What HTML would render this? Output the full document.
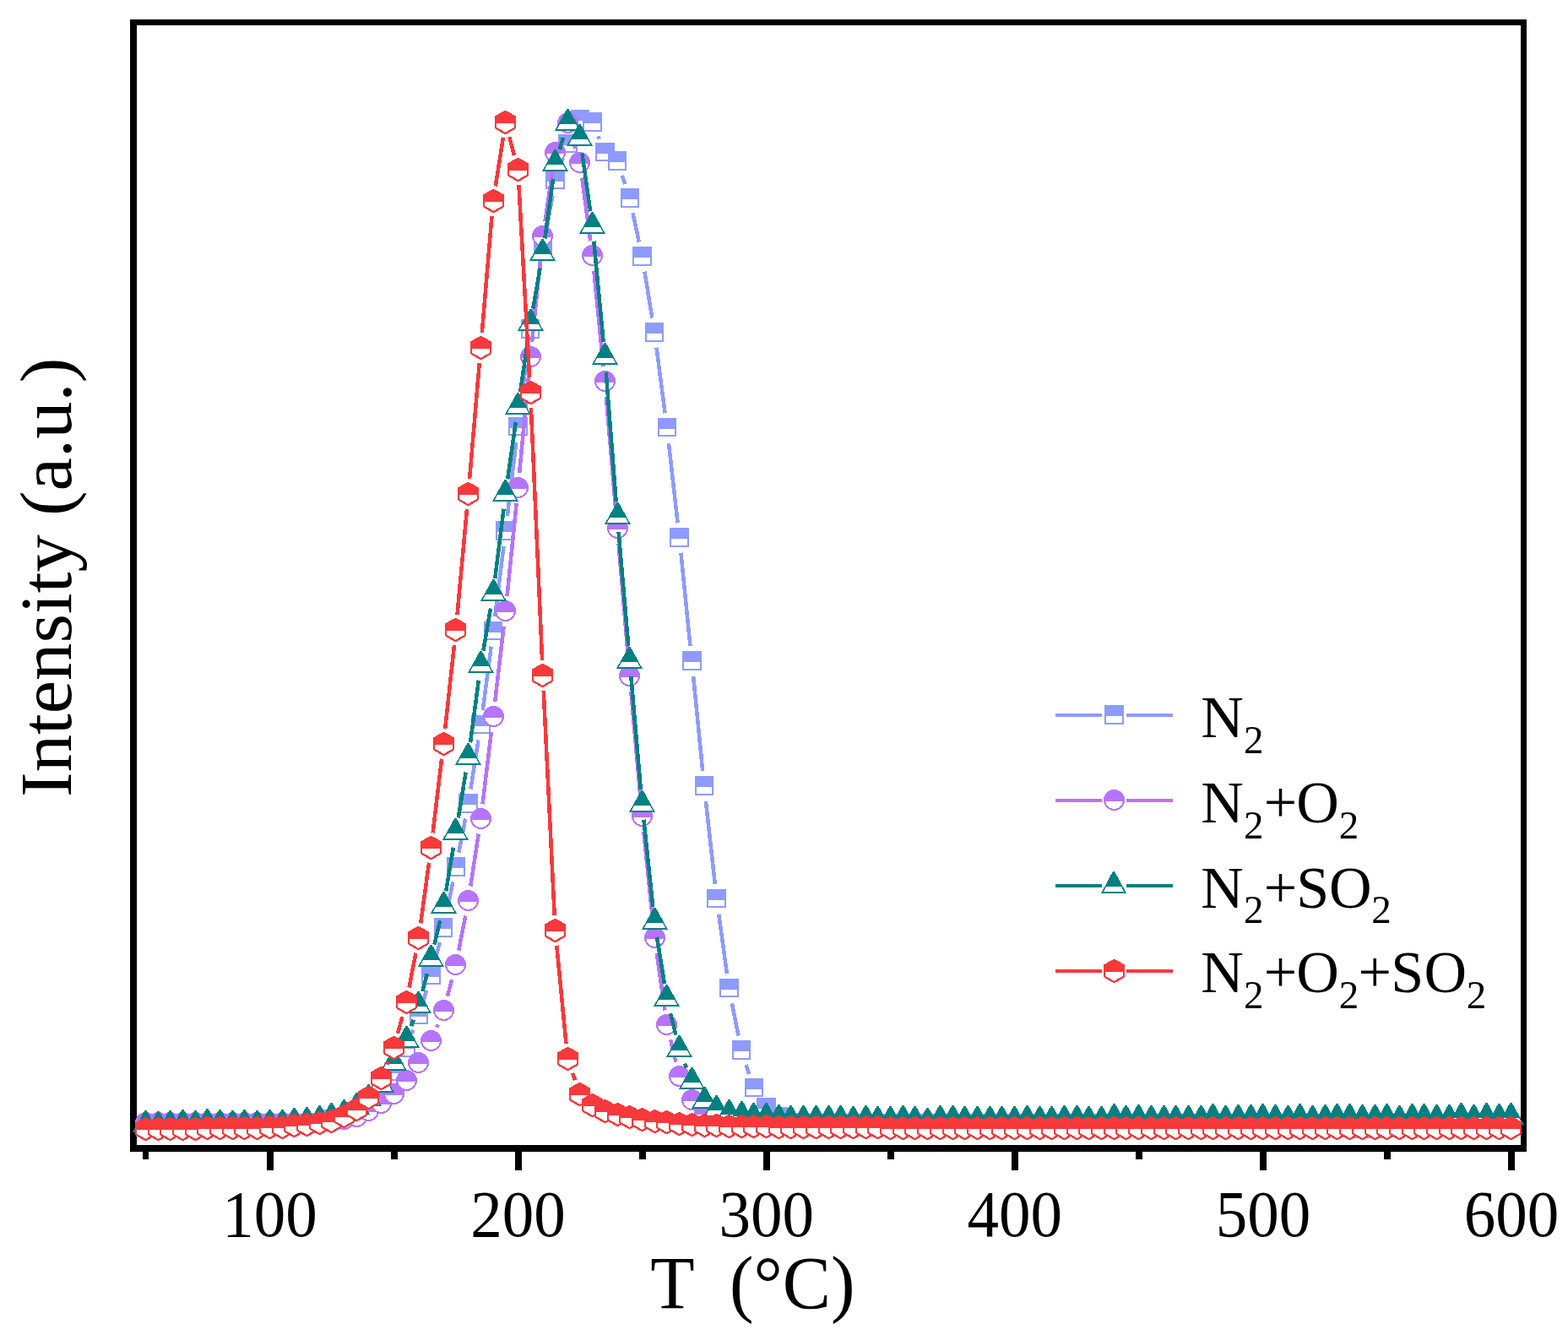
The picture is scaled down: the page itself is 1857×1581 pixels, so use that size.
<!DOCTYPE html>
<html lang="en">
<head>
<meta charset="utf-8">
<title>Intensity vs T</title>
<style>html,body{margin:0;padding:0;background:#fff}body{width:1857px;height:1581px;overflow:hidden}</style>
</head>
<body>
<svg width="1857" height="1581" viewBox="0 0 1857 1581" style="display:block">
<rect width="1857" height="1581" fill="#fff"/>
<g fill="#000" shape-rendering="crispEdges">
<rect x="154" y="23" width="1654" height="7"/>
<rect x="154" y="1356" width="1654" height="8"/>
<rect x="154" y="23" width="8" height="1341"/>
<rect x="1801" y="23" width="7" height="1341"/>
<rect x="169" y="1364" width="7" height="9"/>
<rect x="316" y="1364" width="8" height="22"/>
<rect x="463" y="1364" width="8" height="9"/>
<rect x="610" y="1364" width="8" height="22"/>
<rect x="757" y="1364" width="8" height="9"/>
<rect x="904" y="1364" width="8" height="22"/>
<rect x="1051" y="1364" width="8" height="9"/>
<rect x="1198" y="1364" width="8" height="22"/>
<rect x="1345" y="1364" width="8" height="9"/>
<rect x="1492" y="1364" width="8" height="22"/>
<rect x="1639" y="1364" width="8" height="9"/>
<rect x="1786" y="1364" width="8" height="22"/>
</g>
<g shape-rendering="crispEdges">
<g>
<path d="M487.5 1224.4L489.4 1219.6M501.1 1186L505.2 1173M514.9 1138.8L520.8 1116.2M528.8 1081.6L536.4 1044.4M543.3 1009.5L551.2 969.5M557.4 934.4L566.5 876.6M571.7 841.4L581.7 765.6M586.2 730.3L596.5 646.7M600.8 611.3L611.3 523.7M615.7 488.3L625.9 407.7M630.9 372.4L640.1 313.6M646 278.5L654.4 231.5M663.3 197.2L666.5 187.8M708.4 161.5L709.6 164.5M736.7 207.9L740.1 218.1M749.5 252.4L756.8 286.6M763.4 321.6L772.3 376.4M777.5 411.7L787.6 489.3M791.9 524.7L802.6 619.3M806.4 654.7L817.5 765.3M821.1 800.7L832.2 913.3M835.9 948.7L846.8 1047.3M851.2 1082.6L861 1153.4M866.9 1188.4L874.6 1226.6M883.6 1260.9L887.3 1272.1" stroke="#8E9BFD" stroke-width="4.5" fill="none"/>
<rect x="162" y="1325" width="21" height="20" fill="#fff" stroke="#8E9BFD" stroke-width="2"/><rect x="161" y="1324" width="23" height="13" fill="#8E9BFD"/>
<rect x="177" y="1325" width="20" height="20" fill="#fff" stroke="#8E9BFD" stroke-width="2"/><rect x="176" y="1324" width="22" height="13" fill="#8E9BFD"/>
<rect x="191" y="1325" width="21" height="20" fill="#fff" stroke="#8E9BFD" stroke-width="2"/><rect x="190" y="1324" width="23" height="13" fill="#8E9BFD"/>
<rect x="206" y="1325" width="21" height="20" fill="#fff" stroke="#8E9BFD" stroke-width="2"/><rect x="205" y="1324" width="23" height="13" fill="#8E9BFD"/>
<rect x="221" y="1325" width="20" height="20" fill="#fff" stroke="#8E9BFD" stroke-width="2"/><rect x="220" y="1324" width="22" height="13" fill="#8E9BFD"/>
<rect x="236" y="1325" width="20" height="20" fill="#fff" stroke="#8E9BFD" stroke-width="2"/><rect x="235" y="1324" width="22" height="13" fill="#8E9BFD"/>
<rect x="250" y="1325" width="21" height="20" fill="#fff" stroke="#8E9BFD" stroke-width="2"/><rect x="249" y="1324" width="23" height="13" fill="#8E9BFD"/>
<rect x="265" y="1325" width="20" height="20" fill="#fff" stroke="#8E9BFD" stroke-width="2"/><rect x="264" y="1324" width="22" height="13" fill="#8E9BFD"/>
<rect x="280" y="1325" width="20" height="20" fill="#fff" stroke="#8E9BFD" stroke-width="2"/><rect x="279" y="1324" width="22" height="13" fill="#8E9BFD"/>
<rect x="294" y="1325" width="21" height="20" fill="#fff" stroke="#8E9BFD" stroke-width="2"/><rect x="293" y="1324" width="23" height="13" fill="#8E9BFD"/>
<rect x="309" y="1325" width="21" height="20" fill="#fff" stroke="#8E9BFD" stroke-width="2"/><rect x="308" y="1324" width="23" height="13" fill="#8E9BFD"/>
<rect x="324" y="1324" width="20" height="20" fill="#fff" stroke="#8E9BFD" stroke-width="2"/><rect x="323" y="1323" width="22" height="13" fill="#8E9BFD"/>
<rect x="339" y="1322" width="20" height="20" fill="#fff" stroke="#8E9BFD" stroke-width="2"/><rect x="338" y="1321" width="22" height="13" fill="#8E9BFD"/>
<rect x="353" y="1320" width="21" height="21" fill="#fff" stroke="#8E9BFD" stroke-width="2"/><rect x="352" y="1319" width="23" height="13" fill="#8E9BFD"/>
<rect x="368" y="1319" width="20" height="20" fill="#fff" stroke="#8E9BFD" stroke-width="2"/><rect x="367" y="1318" width="22" height="13" fill="#8E9BFD"/>
<rect x="383" y="1315" width="20" height="21" fill="#fff" stroke="#8E9BFD" stroke-width="2"/><rect x="382" y="1314" width="22" height="13" fill="#8E9BFD"/>
<rect x="397" y="1313" width="21" height="20" fill="#fff" stroke="#8E9BFD" stroke-width="2"/><rect x="396" y="1312" width="23" height="13" fill="#8E9BFD"/>
<rect x="412" y="1306" width="21" height="20" fill="#fff" stroke="#8E9BFD" stroke-width="2"/><rect x="411" y="1305" width="23" height="13" fill="#8E9BFD"/>
<rect x="427" y="1295" width="20" height="20" fill="#fff" stroke="#8E9BFD" stroke-width="2"/><rect x="426" y="1294" width="22" height="13" fill="#8E9BFD"/>
<rect x="441" y="1279" width="21" height="20" fill="#fff" stroke="#8E9BFD" stroke-width="2"/><rect x="440" y="1278" width="23" height="13" fill="#8E9BFD"/>
<rect x="456" y="1259" width="21" height="20" fill="#fff" stroke="#8E9BFD" stroke-width="2"/><rect x="455" y="1258" width="23" height="13" fill="#8E9BFD"/>
<rect x="471" y="1230" width="20" height="21" fill="#fff" stroke="#8E9BFD" stroke-width="2"/><rect x="470" y="1229" width="22" height="13" fill="#8E9BFD"/>
<rect x="486" y="1192" width="20" height="20" fill="#fff" stroke="#8E9BFD" stroke-width="2"/><rect x="485" y="1191" width="22" height="13" fill="#8E9BFD"/>
<rect x="500" y="1145" width="21" height="20" fill="#fff" stroke="#8E9BFD" stroke-width="2"/><rect x="499" y="1144" width="23" height="13" fill="#8E9BFD"/>
<rect x="515" y="1088" width="20" height="21" fill="#fff" stroke="#8E9BFD" stroke-width="2"/><rect x="514" y="1087" width="22" height="13" fill="#8E9BFD"/>
<rect x="530" y="1016" width="20" height="21" fill="#fff" stroke="#8E9BFD" stroke-width="2"/><rect x="529" y="1015" width="22" height="13" fill="#8E9BFD"/>
<rect x="544" y="941" width="21" height="21" fill="#fff" stroke="#8E9BFD" stroke-width="2"/><rect x="543" y="940" width="23" height="13" fill="#8E9BFD"/>
<rect x="559" y="848" width="21" height="20" fill="#fff" stroke="#8E9BFD" stroke-width="2"/><rect x="558" y="847" width="23" height="13" fill="#8E9BFD"/>
<rect x="574" y="737" width="20" height="20" fill="#fff" stroke="#8E9BFD" stroke-width="2"/><rect x="573" y="736" width="22" height="13" fill="#8E9BFD"/>
<rect x="588" y="618" width="21" height="21" fill="#fff" stroke="#8E9BFD" stroke-width="2"/><rect x="587" y="617" width="23" height="13" fill="#8E9BFD"/>
<rect x="603" y="495" width="21" height="20" fill="#fff" stroke="#8E9BFD" stroke-width="2"/><rect x="602" y="494" width="23" height="13" fill="#8E9BFD"/>
<rect x="618" y="379" width="20" height="21" fill="#fff" stroke="#8E9BFD" stroke-width="2"/><rect x="617" y="378" width="22" height="13" fill="#8E9BFD"/>
<rect x="633" y="285" width="20" height="20" fill="#fff" stroke="#8E9BFD" stroke-width="2"/><rect x="632" y="284" width="22" height="13" fill="#8E9BFD"/>
<rect x="647" y="203" width="21" height="20" fill="#fff" stroke="#8E9BFD" stroke-width="2"/><rect x="646" y="202" width="23" height="13" fill="#8E9BFD"/>
<rect x="662" y="160" width="21" height="20" fill="#fff" stroke="#8E9BFD" stroke-width="2"/><rect x="661" y="159" width="23" height="13" fill="#8E9BFD"/>
<rect x="677" y="131" width="20" height="20" fill="#fff" stroke="#8E9BFD" stroke-width="2"/><rect x="676" y="130" width="22" height="13" fill="#8E9BFD"/>
<rect x="691" y="134" width="21" height="21" fill="#fff" stroke="#8E9BFD" stroke-width="2"/><rect x="690" y="133" width="23" height="13" fill="#8E9BFD"/>
<rect x="706" y="170" width="21" height="20" fill="#fff" stroke="#8E9BFD" stroke-width="2"/><rect x="705" y="169" width="23" height="13" fill="#8E9BFD"/>
<rect x="721" y="180" width="20" height="21" fill="#fff" stroke="#8E9BFD" stroke-width="2"/><rect x="720" y="179" width="22" height="13" fill="#8E9BFD"/>
<rect x="736" y="224" width="20" height="21" fill="#fff" stroke="#8E9BFD" stroke-width="2"/><rect x="735" y="223" width="22" height="13" fill="#8E9BFD"/>
<rect x="750" y="293" width="21" height="21" fill="#fff" stroke="#8E9BFD" stroke-width="2"/><rect x="749" y="292" width="23" height="13" fill="#8E9BFD"/>
<rect x="765" y="383" width="20" height="21" fill="#fff" stroke="#8E9BFD" stroke-width="2"/><rect x="764" y="382" width="22" height="13" fill="#8E9BFD"/>
<rect x="780" y="496" width="20" height="20" fill="#fff" stroke="#8E9BFD" stroke-width="2"/><rect x="779" y="495" width="22" height="13" fill="#8E9BFD"/>
<rect x="794" y="626" width="21" height="21" fill="#fff" stroke="#8E9BFD" stroke-width="2"/><rect x="793" y="625" width="23" height="13" fill="#8E9BFD"/>
<rect x="809" y="772" width="21" height="21" fill="#fff" stroke="#8E9BFD" stroke-width="2"/><rect x="808" y="771" width="23" height="13" fill="#8E9BFD"/>
<rect x="824" y="920" width="20" height="21" fill="#fff" stroke="#8E9BFD" stroke-width="2"/><rect x="823" y="919" width="22" height="13" fill="#8E9BFD"/>
<rect x="838" y="1054" width="21" height="20" fill="#fff" stroke="#8E9BFD" stroke-width="2"/><rect x="837" y="1053" width="23" height="13" fill="#8E9BFD"/>
<rect x="853" y="1160" width="21" height="20" fill="#fff" stroke="#8E9BFD" stroke-width="2"/><rect x="852" y="1159" width="23" height="13" fill="#8E9BFD"/>
<rect x="868" y="1233" width="20" height="21" fill="#fff" stroke="#8E9BFD" stroke-width="2"/><rect x="867" y="1232" width="22" height="13" fill="#8E9BFD"/>
<rect x="883" y="1278" width="20" height="20" fill="#fff" stroke="#8E9BFD" stroke-width="2"/><rect x="882" y="1277" width="22" height="13" fill="#8E9BFD"/>
<rect x="897" y="1301" width="21" height="21" fill="#fff" stroke="#8E9BFD" stroke-width="2"/><rect x="896" y="1300" width="23" height="13" fill="#8E9BFD"/>
<rect x="912" y="1312" width="20" height="21" fill="#fff" stroke="#8E9BFD" stroke-width="2"/><rect x="911" y="1311" width="22" height="13" fill="#8E9BFD"/>
<rect x="927" y="1319" width="20" height="20" fill="#fff" stroke="#8E9BFD" stroke-width="2"/><rect x="926" y="1318" width="22" height="13" fill="#8E9BFD"/>
<rect x="941" y="1323" width="21" height="20" fill="#fff" stroke="#8E9BFD" stroke-width="2"/><rect x="940" y="1322" width="23" height="13" fill="#8E9BFD"/>
<rect x="956" y="1325" width="21" height="20" fill="#fff" stroke="#8E9BFD" stroke-width="2"/><rect x="955" y="1324" width="23" height="13" fill="#8E9BFD"/>
<rect x="971" y="1325" width="20" height="20" fill="#fff" stroke="#8E9BFD" stroke-width="2"/><rect x="970" y="1324" width="22" height="13" fill="#8E9BFD"/>
<rect x="986" y="1325" width="20" height="20" fill="#fff" stroke="#8E9BFD" stroke-width="2"/><rect x="985" y="1324" width="22" height="13" fill="#8E9BFD"/>
<rect x="1000" y="1325" width="21" height="20" fill="#fff" stroke="#8E9BFD" stroke-width="2"/><rect x="999" y="1324" width="23" height="13" fill="#8E9BFD"/>
<rect x="1015" y="1325" width="20" height="20" fill="#fff" stroke="#8E9BFD" stroke-width="2"/><rect x="1014" y="1324" width="22" height="13" fill="#8E9BFD"/>
<rect x="1030" y="1325" width="20" height="20" fill="#fff" stroke="#8E9BFD" stroke-width="2"/><rect x="1029" y="1324" width="22" height="13" fill="#8E9BFD"/>
<rect x="1044" y="1325" width="21" height="20" fill="#fff" stroke="#8E9BFD" stroke-width="2"/><rect x="1043" y="1324" width="23" height="13" fill="#8E9BFD"/>
<rect x="1059" y="1325" width="21" height="20" fill="#fff" stroke="#8E9BFD" stroke-width="2"/><rect x="1058" y="1324" width="23" height="13" fill="#8E9BFD"/>
<rect x="1074" y="1325" width="20" height="20" fill="#fff" stroke="#8E9BFD" stroke-width="2"/><rect x="1073" y="1324" width="22" height="13" fill="#8E9BFD"/>
<rect x="1088" y="1325" width="21" height="20" fill="#fff" stroke="#8E9BFD" stroke-width="2"/><rect x="1087" y="1324" width="23" height="13" fill="#8E9BFD"/>
<rect x="1103" y="1325" width="21" height="20" fill="#fff" stroke="#8E9BFD" stroke-width="2"/><rect x="1102" y="1324" width="23" height="13" fill="#8E9BFD"/>
<rect x="1118" y="1325" width="20" height="20" fill="#fff" stroke="#8E9BFD" stroke-width="2"/><rect x="1117" y="1324" width="22" height="13" fill="#8E9BFD"/>
<rect x="1133" y="1325" width="20" height="20" fill="#fff" stroke="#8E9BFD" stroke-width="2"/><rect x="1132" y="1324" width="22" height="13" fill="#8E9BFD"/>
<rect x="1147" y="1325" width="21" height="20" fill="#fff" stroke="#8E9BFD" stroke-width="2"/><rect x="1146" y="1324" width="23" height="13" fill="#8E9BFD"/>
<rect x="1162" y="1325" width="20" height="20" fill="#fff" stroke="#8E9BFD" stroke-width="2"/><rect x="1161" y="1324" width="22" height="13" fill="#8E9BFD"/>
<rect x="1177" y="1325" width="20" height="20" fill="#fff" stroke="#8E9BFD" stroke-width="2"/><rect x="1176" y="1324" width="22" height="13" fill="#8E9BFD"/>
<rect x="1191" y="1325" width="21" height="20" fill="#fff" stroke="#8E9BFD" stroke-width="2"/><rect x="1190" y="1324" width="23" height="13" fill="#8E9BFD"/>
<rect x="1206" y="1325" width="21" height="20" fill="#fff" stroke="#8E9BFD" stroke-width="2"/><rect x="1205" y="1324" width="23" height="13" fill="#8E9BFD"/>
<rect x="1221" y="1325" width="20" height="20" fill="#fff" stroke="#8E9BFD" stroke-width="2"/><rect x="1220" y="1324" width="22" height="13" fill="#8E9BFD"/>
<rect x="1235" y="1325" width="21" height="20" fill="#fff" stroke="#8E9BFD" stroke-width="2"/><rect x="1234" y="1324" width="23" height="13" fill="#8E9BFD"/>
<rect x="1250" y="1325" width="21" height="20" fill="#fff" stroke="#8E9BFD" stroke-width="2"/><rect x="1249" y="1324" width="23" height="13" fill="#8E9BFD"/>
<rect x="1265" y="1325" width="20" height="20" fill="#fff" stroke="#8E9BFD" stroke-width="2"/><rect x="1264" y="1324" width="22" height="13" fill="#8E9BFD"/>
<rect x="1280" y="1325" width="20" height="20" fill="#fff" stroke="#8E9BFD" stroke-width="2"/><rect x="1279" y="1324" width="22" height="13" fill="#8E9BFD"/>
<rect x="1294" y="1325" width="21" height="20" fill="#fff" stroke="#8E9BFD" stroke-width="2"/><rect x="1293" y="1324" width="23" height="13" fill="#8E9BFD"/>
<rect x="1309" y="1325" width="21" height="20" fill="#fff" stroke="#8E9BFD" stroke-width="2"/><rect x="1308" y="1324" width="23" height="13" fill="#8E9BFD"/>
<rect x="1324" y="1325" width="20" height="20" fill="#fff" stroke="#8E9BFD" stroke-width="2"/><rect x="1323" y="1324" width="22" height="13" fill="#8E9BFD"/>
<rect x="1338" y="1325" width="21" height="20" fill="#fff" stroke="#8E9BFD" stroke-width="2"/><rect x="1337" y="1324" width="23" height="13" fill="#8E9BFD"/>
<rect x="1353" y="1325" width="21" height="20" fill="#fff" stroke="#8E9BFD" stroke-width="2"/><rect x="1352" y="1324" width="23" height="13" fill="#8E9BFD"/>
<rect x="1368" y="1325" width="20" height="20" fill="#fff" stroke="#8E9BFD" stroke-width="2"/><rect x="1367" y="1324" width="22" height="13" fill="#8E9BFD"/>
<rect x="1383" y="1325" width="20" height="20" fill="#fff" stroke="#8E9BFD" stroke-width="2"/><rect x="1382" y="1324" width="22" height="13" fill="#8E9BFD"/>
<rect x="1397" y="1325" width="21" height="20" fill="#fff" stroke="#8E9BFD" stroke-width="2"/><rect x="1396" y="1324" width="23" height="13" fill="#8E9BFD"/>
<rect x="1412" y="1325" width="20" height="20" fill="#fff" stroke="#8E9BFD" stroke-width="2"/><rect x="1411" y="1324" width="22" height="13" fill="#8E9BFD"/>
<rect x="1427" y="1325" width="20" height="20" fill="#fff" stroke="#8E9BFD" stroke-width="2"/><rect x="1426" y="1324" width="22" height="13" fill="#8E9BFD"/>
<rect x="1441" y="1325" width="21" height="20" fill="#fff" stroke="#8E9BFD" stroke-width="2"/><rect x="1440" y="1324" width="23" height="13" fill="#8E9BFD"/>
<rect x="1456" y="1325" width="21" height="20" fill="#fff" stroke="#8E9BFD" stroke-width="2"/><rect x="1455" y="1324" width="23" height="13" fill="#8E9BFD"/>
<rect x="1471" y="1325" width="20" height="20" fill="#fff" stroke="#8E9BFD" stroke-width="2"/><rect x="1470" y="1324" width="22" height="13" fill="#8E9BFD"/>
<rect x="1485" y="1325" width="21" height="20" fill="#fff" stroke="#8E9BFD" stroke-width="2"/><rect x="1484" y="1324" width="23" height="13" fill="#8E9BFD"/>
<rect x="1500" y="1325" width="21" height="20" fill="#fff" stroke="#8E9BFD" stroke-width="2"/><rect x="1499" y="1324" width="23" height="13" fill="#8E9BFD"/>
<rect x="1515" y="1325" width="20" height="20" fill="#fff" stroke="#8E9BFD" stroke-width="2"/><rect x="1514" y="1324" width="22" height="13" fill="#8E9BFD"/>
<rect x="1530" y="1325" width="20" height="20" fill="#fff" stroke="#8E9BFD" stroke-width="2"/><rect x="1529" y="1324" width="22" height="13" fill="#8E9BFD"/>
<rect x="1544" y="1325" width="21" height="20" fill="#fff" stroke="#8E9BFD" stroke-width="2"/><rect x="1543" y="1324" width="23" height="13" fill="#8E9BFD"/>
<rect x="1559" y="1325" width="20" height="20" fill="#fff" stroke="#8E9BFD" stroke-width="2"/><rect x="1558" y="1324" width="22" height="13" fill="#8E9BFD"/>
<rect x="1574" y="1325" width="20" height="20" fill="#fff" stroke="#8E9BFD" stroke-width="2"/><rect x="1573" y="1324" width="22" height="13" fill="#8E9BFD"/>
<rect x="1588" y="1326" width="21" height="20" fill="#fff" stroke="#8E9BFD" stroke-width="2"/><rect x="1587" y="1325" width="23" height="13" fill="#8E9BFD"/>
<rect x="1603" y="1327" width="21" height="20" fill="#fff" stroke="#8E9BFD" stroke-width="2"/><rect x="1602" y="1326" width="23" height="13" fill="#8E9BFD"/>
<rect x="1618" y="1327" width="20" height="20" fill="#fff" stroke="#8E9BFD" stroke-width="2"/><rect x="1617" y="1326" width="22" height="13" fill="#8E9BFD"/>
<rect x="1633" y="1326" width="20" height="20" fill="#fff" stroke="#8E9BFD" stroke-width="2"/><rect x="1632" y="1325" width="22" height="13" fill="#8E9BFD"/>
<rect x="1647" y="1325" width="21" height="20" fill="#fff" stroke="#8E9BFD" stroke-width="2"/><rect x="1646" y="1324" width="23" height="13" fill="#8E9BFD"/>
<rect x="1662" y="1325" width="20" height="20" fill="#fff" stroke="#8E9BFD" stroke-width="2"/><rect x="1661" y="1324" width="22" height="13" fill="#8E9BFD"/>
<rect x="1677" y="1325" width="20" height="20" fill="#fff" stroke="#8E9BFD" stroke-width="2"/><rect x="1676" y="1324" width="22" height="13" fill="#8E9BFD"/>
<rect x="1691" y="1325" width="21" height="20" fill="#fff" stroke="#8E9BFD" stroke-width="2"/><rect x="1690" y="1324" width="23" height="13" fill="#8E9BFD"/>
<rect x="1706" y="1325" width="21" height="20" fill="#fff" stroke="#8E9BFD" stroke-width="2"/><rect x="1705" y="1324" width="23" height="13" fill="#8E9BFD"/>
<rect x="1721" y="1325" width="20" height="20" fill="#fff" stroke="#8E9BFD" stroke-width="2"/><rect x="1720" y="1324" width="22" height="13" fill="#8E9BFD"/>
<rect x="1735" y="1325" width="21" height="20" fill="#fff" stroke="#8E9BFD" stroke-width="2"/><rect x="1734" y="1324" width="23" height="13" fill="#8E9BFD"/>
<rect x="1750" y="1324" width="21" height="21" fill="#fff" stroke="#8E9BFD" stroke-width="2"/><rect x="1749" y="1323" width="23" height="13" fill="#8E9BFD"/>
<rect x="1765" y="1323" width="20" height="21" fill="#fff" stroke="#8E9BFD" stroke-width="2"/><rect x="1764" y="1322" width="22" height="13" fill="#8E9BFD"/>
<rect x="1780" y="1323" width="20" height="20" fill="#fff" stroke="#8E9BFD" stroke-width="2"/><rect x="1779" y="1322" width="22" height="13" fill="#8E9BFD"/>
</g>
<g>
<path d="M517.2 1216.5L518.5 1213.5M529.9 1179.8L535.2 1160.2M543.3 1125.5L551.2 1084.5M557.3 1049.4L566.7 987.6M571.5 952.3L581.9 866.7M586.1 831.3L596.7 741.7M600.5 706.3L611.7 595.7M615.1 560.3L626.5 440.7M630 405.3L641 297.7M645.5 262.4L654.9 198.6M664.4 164.6L665.4 162.4M677.6 163L681.6 176M689.3 210.6L699.3 285.4M703.4 320.7L714.6 434.3M717.9 469.7L729.6 608.3M732.6 643.7L744.3 783.3M747.3 818.7L758.9 949.3M762.3 984.7L773.4 1093.3M777.7 1128.6L787.4 1196.4M794.1 1231.3L800.4 1257.7" stroke="#B674FC" stroke-width="4.5" fill="none"/>
<circle cx="172.5" cy="1329.5" r="11.5" fill="#fff" stroke="#B674FC" stroke-width="2"/><path d="M160 1331A12.5 12.5 0 0 1 185 1331Z" fill="#B674FC"/>
<circle cx="187.5" cy="1329.5" r="11.5" fill="#fff" stroke="#B674FC" stroke-width="2"/><path d="M175 1331A12.5 12.5 0 0 1 200 1331Z" fill="#B674FC"/>
<circle cx="201.5" cy="1329.5" r="11.5" fill="#fff" stroke="#B674FC" stroke-width="2"/><path d="M189 1331A12.5 12.5 0 0 1 214 1331Z" fill="#B674FC"/>
<circle cx="216.5" cy="1329.5" r="11.5" fill="#fff" stroke="#B674FC" stroke-width="2"/><path d="M204 1331A12.5 12.5 0 0 1 229 1331Z" fill="#B674FC"/>
<circle cx="231.5" cy="1329.5" r="11.5" fill="#fff" stroke="#B674FC" stroke-width="2"/><path d="M219 1331A12.5 12.5 0 0 1 244 1331Z" fill="#B674FC"/>
<circle cx="245.5" cy="1329.5" r="11.5" fill="#fff" stroke="#B674FC" stroke-width="2"/><path d="M233 1331A12.5 12.5 0 0 1 258 1331Z" fill="#B674FC"/>
<circle cx="260.5" cy="1329.5" r="11.5" fill="#fff" stroke="#B674FC" stroke-width="2"/><path d="M248 1331A12.5 12.5 0 0 1 273 1331Z" fill="#B674FC"/>
<circle cx="275.5" cy="1329.5" r="11.5" fill="#fff" stroke="#B674FC" stroke-width="2"/><path d="M263 1331A12.5 12.5 0 0 1 288 1331Z" fill="#B674FC"/>
<circle cx="289.5" cy="1329.5" r="11.5" fill="#fff" stroke="#B674FC" stroke-width="2"/><path d="M277 1331A12.5 12.5 0 0 1 302 1331Z" fill="#B674FC"/>
<circle cx="304.5" cy="1329.5" r="11.5" fill="#fff" stroke="#B674FC" stroke-width="2"/><path d="M292 1331A12.5 12.5 0 0 1 317 1331Z" fill="#B674FC"/>
<circle cx="319.5" cy="1329.5" r="11.5" fill="#fff" stroke="#B674FC" stroke-width="2"/><path d="M307 1331A12.5 12.5 0 0 1 332 1331Z" fill="#B674FC"/>
<circle cx="334.5" cy="1329.5" r="11.5" fill="#fff" stroke="#B674FC" stroke-width="2"/><path d="M322 1331A12.5 12.5 0 0 1 347 1331Z" fill="#B674FC"/>
<circle cx="348.5" cy="1329.5" r="11.5" fill="#fff" stroke="#B674FC" stroke-width="2"/><path d="M336 1331A12.5 12.5 0 0 1 361 1331Z" fill="#B674FC"/>
<circle cx="363.5" cy="1329.5" r="11.5" fill="#fff" stroke="#B674FC" stroke-width="2"/><path d="M351 1331A12.5 12.5 0 0 1 376 1331Z" fill="#B674FC"/>
<circle cx="378.5" cy="1328.5" r="11.5" fill="#fff" stroke="#B674FC" stroke-width="2"/><path d="M366 1330A12.5 12.5 0 0 1 391 1330Z" fill="#B674FC"/>
<circle cx="392.5" cy="1327.5" r="11.5" fill="#fff" stroke="#B674FC" stroke-width="2"/><path d="M380 1329A12.5 12.5 0 0 1 405 1329Z" fill="#B674FC"/>
<circle cx="407.5" cy="1325.5" r="11.5" fill="#fff" stroke="#B674FC" stroke-width="2"/><path d="M395 1327A12.5 12.5 0 0 1 420 1327Z" fill="#B674FC"/>
<circle cx="422.5" cy="1322.5" r="11.5" fill="#fff" stroke="#B674FC" stroke-width="2"/><path d="M410 1324A12.5 12.5 0 0 1 435 1324Z" fill="#B674FC"/>
<circle cx="436.5" cy="1315.5" r="11.5" fill="#fff" stroke="#B674FC" stroke-width="2"/><path d="M424 1317A12.5 12.5 0 0 1 449 1317Z" fill="#B674FC"/>
<circle cx="451.5" cy="1306.5" r="11.5" fill="#fff" stroke="#B674FC" stroke-width="2"/><path d="M439 1308A12.5 12.5 0 0 1 464 1308Z" fill="#B674FC"/>
<circle cx="466.5" cy="1295.5" r="11.5" fill="#fff" stroke="#B674FC" stroke-width="2"/><path d="M454 1297A12.5 12.5 0 0 1 479 1297Z" fill="#B674FC"/>
<circle cx="481.5" cy="1279.5" r="11.5" fill="#fff" stroke="#B674FC" stroke-width="2"/><path d="M469 1281A12.5 12.5 0 0 1 494 1281Z" fill="#B674FC"/>
<circle cx="495.5" cy="1258.5" r="11.5" fill="#fff" stroke="#B674FC" stroke-width="2"/><path d="M483 1260A12.5 12.5 0 0 1 508 1260Z" fill="#B674FC"/>
<circle cx="510.5" cy="1232.5" r="11.5" fill="#fff" stroke="#B674FC" stroke-width="2"/><path d="M498 1234A12.5 12.5 0 0 1 523 1234Z" fill="#B674FC"/>
<circle cx="525.5" cy="1196.5" r="11.5" fill="#fff" stroke="#B674FC" stroke-width="2"/><path d="M513 1198A12.5 12.5 0 0 1 538 1198Z" fill="#B674FC"/>
<circle cx="539.5" cy="1142.5" r="11.5" fill="#fff" stroke="#B674FC" stroke-width="2"/><path d="M527 1144A12.5 12.5 0 0 1 552 1144Z" fill="#B674FC"/>
<circle cx="554.5" cy="1066.5" r="11.5" fill="#fff" stroke="#B674FC" stroke-width="2"/><path d="M542 1068A12.5 12.5 0 0 1 567 1068Z" fill="#B674FC"/>
<circle cx="569.5" cy="969.5" r="11.5" fill="#fff" stroke="#B674FC" stroke-width="2"/><path d="M557 971A12.5 12.5 0 0 1 582 971Z" fill="#B674FC"/>
<circle cx="584.5" cy="848.5" r="11.5" fill="#fff" stroke="#B674FC" stroke-width="2"/><path d="M572 850A12.5 12.5 0 0 1 597 850Z" fill="#B674FC"/>
<circle cx="598.5" cy="723.5" r="11.5" fill="#fff" stroke="#B674FC" stroke-width="2"/><path d="M586 725A12.5 12.5 0 0 1 611 725Z" fill="#B674FC"/>
<circle cx="613.5" cy="577.5" r="11.5" fill="#fff" stroke="#B674FC" stroke-width="2"/><path d="M601 579A12.5 12.5 0 0 1 626 579Z" fill="#B674FC"/>
<circle cx="628.5" cy="422.5" r="11.5" fill="#fff" stroke="#B674FC" stroke-width="2"/><path d="M616 424A12.5 12.5 0 0 1 641 424Z" fill="#B674FC"/>
<circle cx="642.5" cy="279.5" r="11.5" fill="#fff" stroke="#B674FC" stroke-width="2"/><path d="M630 281A12.5 12.5 0 0 1 655 281Z" fill="#B674FC"/>
<circle cx="657.5" cy="180.5" r="11.5" fill="#fff" stroke="#B674FC" stroke-width="2"/><path d="M645 182A12.5 12.5 0 0 1 670 182Z" fill="#B674FC"/>
<circle cx="672.5" cy="145.5" r="11.5" fill="#fff" stroke="#B674FC" stroke-width="2"/><path d="M660 147A12.5 12.5 0 0 1 685 147Z" fill="#B674FC"/>
<circle cx="686.5" cy="192.5" r="11.5" fill="#fff" stroke="#B674FC" stroke-width="2"/><path d="M674 194A12.5 12.5 0 0 1 699 194Z" fill="#B674FC"/>
<circle cx="701.5" cy="302.5" r="11.5" fill="#fff" stroke="#B674FC" stroke-width="2"/><path d="M689 304A12.5 12.5 0 0 1 714 304Z" fill="#B674FC"/>
<circle cx="716.5" cy="451.5" r="11.5" fill="#fff" stroke="#B674FC" stroke-width="2"/><path d="M704 453A12.5 12.5 0 0 1 729 453Z" fill="#B674FC"/>
<circle cx="731.5" cy="625.5" r="11.5" fill="#fff" stroke="#B674FC" stroke-width="2"/><path d="M719 627A12.5 12.5 0 0 1 744 627Z" fill="#B674FC"/>
<circle cx="745.5" cy="800.5" r="11.5" fill="#fff" stroke="#B674FC" stroke-width="2"/><path d="M733 802A12.5 12.5 0 0 1 758 802Z" fill="#B674FC"/>
<circle cx="760.5" cy="966.5" r="11.5" fill="#fff" stroke="#B674FC" stroke-width="2"/><path d="M748 968A12.5 12.5 0 0 1 773 968Z" fill="#B674FC"/>
<circle cx="775.5" cy="1110.5" r="11.5" fill="#fff" stroke="#B674FC" stroke-width="2"/><path d="M763 1112A12.5 12.5 0 0 1 788 1112Z" fill="#B674FC"/>
<circle cx="789.5" cy="1213.5" r="11.5" fill="#fff" stroke="#B674FC" stroke-width="2"/><path d="M777 1215A12.5 12.5 0 0 1 802 1215Z" fill="#B674FC"/>
<circle cx="804.5" cy="1274.5" r="11.5" fill="#fff" stroke="#B674FC" stroke-width="2"/><path d="M792 1276A12.5 12.5 0 0 1 817 1276Z" fill="#B674FC"/>
<circle cx="819.5" cy="1302.5" r="11.5" fill="#fff" stroke="#B674FC" stroke-width="2"/><path d="M807 1304A12.5 12.5 0 0 1 832 1304Z" fill="#B674FC"/>
<circle cx="834.5" cy="1318.5" r="11.5" fill="#fff" stroke="#B674FC" stroke-width="2"/><path d="M822 1320A12.5 12.5 0 0 1 847 1320Z" fill="#B674FC"/>
<circle cx="848.5" cy="1324.5" r="11.5" fill="#fff" stroke="#B674FC" stroke-width="2"/><path d="M836 1326A12.5 12.5 0 0 1 861 1326Z" fill="#B674FC"/>
<circle cx="863.5" cy="1327.5" r="11.5" fill="#fff" stroke="#B674FC" stroke-width="2"/><path d="M851 1329A12.5 12.5 0 0 1 876 1329Z" fill="#B674FC"/>
<circle cx="878.5" cy="1329.5" r="11.5" fill="#fff" stroke="#B674FC" stroke-width="2"/><path d="M866 1331A12.5 12.5 0 0 1 891 1331Z" fill="#B674FC"/>
<circle cx="892.5" cy="1329.5" r="11.5" fill="#fff" stroke="#B674FC" stroke-width="2"/><path d="M880 1331A12.5 12.5 0 0 1 905 1331Z" fill="#B674FC"/>
<circle cx="907.5" cy="1329.5" r="11.5" fill="#fff" stroke="#B674FC" stroke-width="2"/><path d="M895 1331A12.5 12.5 0 0 1 920 1331Z" fill="#B674FC"/>
<circle cx="922.5" cy="1329.5" r="11.5" fill="#fff" stroke="#B674FC" stroke-width="2"/><path d="M910 1331A12.5 12.5 0 0 1 935 1331Z" fill="#B674FC"/>
<circle cx="936.5" cy="1329.5" r="11.5" fill="#fff" stroke="#B674FC" stroke-width="2"/><path d="M924 1331A12.5 12.5 0 0 1 949 1331Z" fill="#B674FC"/>
<circle cx="951.5" cy="1329.5" r="11.5" fill="#fff" stroke="#B674FC" stroke-width="2"/><path d="M939 1331A12.5 12.5 0 0 1 964 1331Z" fill="#B674FC"/>
<circle cx="966.5" cy="1329.5" r="11.5" fill="#fff" stroke="#B674FC" stroke-width="2"/><path d="M954 1331A12.5 12.5 0 0 1 979 1331Z" fill="#B674FC"/>
<circle cx="981.5" cy="1329.5" r="11.5" fill="#fff" stroke="#B674FC" stroke-width="2"/><path d="M969 1331A12.5 12.5 0 0 1 994 1331Z" fill="#B674FC"/>
<circle cx="995.5" cy="1329.5" r="11.5" fill="#fff" stroke="#B674FC" stroke-width="2"/><path d="M983 1331A12.5 12.5 0 0 1 1008 1331Z" fill="#B674FC"/>
<circle cx="1010.5" cy="1329.5" r="11.5" fill="#fff" stroke="#B674FC" stroke-width="2"/><path d="M998 1331A12.5 12.5 0 0 1 1023 1331Z" fill="#B674FC"/>
<circle cx="1025.5" cy="1329.5" r="11.5" fill="#fff" stroke="#B674FC" stroke-width="2"/><path d="M1013 1331A12.5 12.5 0 0 1 1038 1331Z" fill="#B674FC"/>
<circle cx="1039.5" cy="1329.5" r="11.5" fill="#fff" stroke="#B674FC" stroke-width="2"/><path d="M1027 1331A12.5 12.5 0 0 1 1052 1331Z" fill="#B674FC"/>
<circle cx="1054.5" cy="1329.5" r="11.5" fill="#fff" stroke="#B674FC" stroke-width="2"/><path d="M1042 1331A12.5 12.5 0 0 1 1067 1331Z" fill="#B674FC"/>
<circle cx="1069.5" cy="1329.5" r="11.5" fill="#fff" stroke="#B674FC" stroke-width="2"/><path d="M1057 1331A12.5 12.5 0 0 1 1082 1331Z" fill="#B674FC"/>
<circle cx="1083.5" cy="1329.5" r="11.5" fill="#fff" stroke="#B674FC" stroke-width="2"/><path d="M1071 1331A12.5 12.5 0 0 1 1096 1331Z" fill="#B674FC"/>
<circle cx="1098.5" cy="1329.5" r="11.5" fill="#fff" stroke="#B674FC" stroke-width="2"/><path d="M1086 1331A12.5 12.5 0 0 1 1111 1331Z" fill="#B674FC"/>
<circle cx="1113.5" cy="1329.5" r="11.5" fill="#fff" stroke="#B674FC" stroke-width="2"/><path d="M1101 1331A12.5 12.5 0 0 1 1126 1331Z" fill="#B674FC"/>
<circle cx="1128.5" cy="1329.5" r="11.5" fill="#fff" stroke="#B674FC" stroke-width="2"/><path d="M1116 1331A12.5 12.5 0 0 1 1141 1331Z" fill="#B674FC"/>
<circle cx="1142.5" cy="1329.5" r="11.5" fill="#fff" stroke="#B674FC" stroke-width="2"/><path d="M1130 1331A12.5 12.5 0 0 1 1155 1331Z" fill="#B674FC"/>
<circle cx="1157.5" cy="1329.5" r="11.5" fill="#fff" stroke="#B674FC" stroke-width="2"/><path d="M1145 1331A12.5 12.5 0 0 1 1170 1331Z" fill="#B674FC"/>
<circle cx="1172.5" cy="1329.5" r="11.5" fill="#fff" stroke="#B674FC" stroke-width="2"/><path d="M1160 1331A12.5 12.5 0 0 1 1185 1331Z" fill="#B674FC"/>
<circle cx="1186.5" cy="1329.5" r="11.5" fill="#fff" stroke="#B674FC" stroke-width="2"/><path d="M1174 1331A12.5 12.5 0 0 1 1199 1331Z" fill="#B674FC"/>
<circle cx="1201.5" cy="1329.5" r="11.5" fill="#fff" stroke="#B674FC" stroke-width="2"/><path d="M1189 1331A12.5 12.5 0 0 1 1214 1331Z" fill="#B674FC"/>
<circle cx="1216.5" cy="1329.5" r="11.5" fill="#fff" stroke="#B674FC" stroke-width="2"/><path d="M1204 1331A12.5 12.5 0 0 1 1229 1331Z" fill="#B674FC"/>
<circle cx="1231.5" cy="1329.5" r="11.5" fill="#fff" stroke="#B674FC" stroke-width="2"/><path d="M1219 1331A12.5 12.5 0 0 1 1244 1331Z" fill="#B674FC"/>
<circle cx="1245.5" cy="1329.5" r="11.5" fill="#fff" stroke="#B674FC" stroke-width="2"/><path d="M1233 1331A12.5 12.5 0 0 1 1258 1331Z" fill="#B674FC"/>
<circle cx="1260.5" cy="1329.5" r="11.5" fill="#fff" stroke="#B674FC" stroke-width="2"/><path d="M1248 1331A12.5 12.5 0 0 1 1273 1331Z" fill="#B674FC"/>
<circle cx="1275.5" cy="1329.5" r="11.5" fill="#fff" stroke="#B674FC" stroke-width="2"/><path d="M1263 1331A12.5 12.5 0 0 1 1288 1331Z" fill="#B674FC"/>
<circle cx="1289.5" cy="1329.5" r="11.5" fill="#fff" stroke="#B674FC" stroke-width="2"/><path d="M1277 1331A12.5 12.5 0 0 1 1302 1331Z" fill="#B674FC"/>
<circle cx="1304.5" cy="1329.5" r="11.5" fill="#fff" stroke="#B674FC" stroke-width="2"/><path d="M1292 1331A12.5 12.5 0 0 1 1317 1331Z" fill="#B674FC"/>
<circle cx="1319.5" cy="1329.5" r="11.5" fill="#fff" stroke="#B674FC" stroke-width="2"/><path d="M1307 1331A12.5 12.5 0 0 1 1332 1331Z" fill="#B674FC"/>
<circle cx="1333.5" cy="1329.5" r="11.5" fill="#fff" stroke="#B674FC" stroke-width="2"/><path d="M1321 1331A12.5 12.5 0 0 1 1346 1331Z" fill="#B674FC"/>
<circle cx="1348.5" cy="1329.5" r="11.5" fill="#fff" stroke="#B674FC" stroke-width="2"/><path d="M1336 1331A12.5 12.5 0 0 1 1361 1331Z" fill="#B674FC"/>
<circle cx="1363.5" cy="1329.5" r="11.5" fill="#fff" stroke="#B674FC" stroke-width="2"/><path d="M1351 1331A12.5 12.5 0 0 1 1376 1331Z" fill="#B674FC"/>
<circle cx="1378.5" cy="1329.5" r="11.5" fill="#fff" stroke="#B674FC" stroke-width="2"/><path d="M1366 1331A12.5 12.5 0 0 1 1391 1331Z" fill="#B674FC"/>
<circle cx="1392.5" cy="1329.5" r="11.5" fill="#fff" stroke="#B674FC" stroke-width="2"/><path d="M1380 1331A12.5 12.5 0 0 1 1405 1331Z" fill="#B674FC"/>
<circle cx="1407.5" cy="1329.5" r="11.5" fill="#fff" stroke="#B674FC" stroke-width="2"/><path d="M1395 1331A12.5 12.5 0 0 1 1420 1331Z" fill="#B674FC"/>
<circle cx="1422.5" cy="1329.5" r="11.5" fill="#fff" stroke="#B674FC" stroke-width="2"/><path d="M1410 1331A12.5 12.5 0 0 1 1435 1331Z" fill="#B674FC"/>
<circle cx="1436.5" cy="1329.5" r="11.5" fill="#fff" stroke="#B674FC" stroke-width="2"/><path d="M1424 1331A12.5 12.5 0 0 1 1449 1331Z" fill="#B674FC"/>
<circle cx="1451.5" cy="1329.5" r="11.5" fill="#fff" stroke="#B674FC" stroke-width="2"/><path d="M1439 1331A12.5 12.5 0 0 1 1464 1331Z" fill="#B674FC"/>
<circle cx="1466.5" cy="1329.5" r="11.5" fill="#fff" stroke="#B674FC" stroke-width="2"/><path d="M1454 1331A12.5 12.5 0 0 1 1479 1331Z" fill="#B674FC"/>
<circle cx="1481.5" cy="1329.5" r="11.5" fill="#fff" stroke="#B674FC" stroke-width="2"/><path d="M1469 1331A12.5 12.5 0 0 1 1494 1331Z" fill="#B674FC"/>
<circle cx="1495.5" cy="1329.5" r="11.5" fill="#fff" stroke="#B674FC" stroke-width="2"/><path d="M1483 1331A12.5 12.5 0 0 1 1508 1331Z" fill="#B674FC"/>
<circle cx="1510.5" cy="1329.5" r="11.5" fill="#fff" stroke="#B674FC" stroke-width="2"/><path d="M1498 1331A12.5 12.5 0 0 1 1523 1331Z" fill="#B674FC"/>
<circle cx="1525.5" cy="1329.5" r="11.5" fill="#fff" stroke="#B674FC" stroke-width="2"/><path d="M1513 1331A12.5 12.5 0 0 1 1538 1331Z" fill="#B674FC"/>
<circle cx="1539.5" cy="1329.5" r="11.5" fill="#fff" stroke="#B674FC" stroke-width="2"/><path d="M1527 1331A12.5 12.5 0 0 1 1552 1331Z" fill="#B674FC"/>
<circle cx="1554.5" cy="1329.5" r="11.5" fill="#fff" stroke="#B674FC" stroke-width="2"/><path d="M1542 1331A12.5 12.5 0 0 1 1567 1331Z" fill="#B674FC"/>
<circle cx="1569.5" cy="1329.5" r="11.5" fill="#fff" stroke="#B674FC" stroke-width="2"/><path d="M1557 1331A12.5 12.5 0 0 1 1582 1331Z" fill="#B674FC"/>
<circle cx="1583.5" cy="1329.5" r="11.5" fill="#fff" stroke="#B674FC" stroke-width="2"/><path d="M1571 1331A12.5 12.5 0 0 1 1596 1331Z" fill="#B674FC"/>
<circle cx="1598.5" cy="1329.5" r="11.5" fill="#fff" stroke="#B674FC" stroke-width="2"/><path d="M1586 1331A12.5 12.5 0 0 1 1611 1331Z" fill="#B674FC"/>
<circle cx="1613.5" cy="1329.5" r="11.5" fill="#fff" stroke="#B674FC" stroke-width="2"/><path d="M1601 1331A12.5 12.5 0 0 1 1626 1331Z" fill="#B674FC"/>
<circle cx="1628.5" cy="1329.5" r="11.5" fill="#fff" stroke="#B674FC" stroke-width="2"/><path d="M1616 1331A12.5 12.5 0 0 1 1641 1331Z" fill="#B674FC"/>
<circle cx="1642.5" cy="1329.5" r="11.5" fill="#fff" stroke="#B674FC" stroke-width="2"/><path d="M1630 1331A12.5 12.5 0 0 1 1655 1331Z" fill="#B674FC"/>
<circle cx="1657.5" cy="1329.5" r="11.5" fill="#fff" stroke="#B674FC" stroke-width="2"/><path d="M1645 1331A12.5 12.5 0 0 1 1670 1331Z" fill="#B674FC"/>
<circle cx="1672.5" cy="1329.5" r="11.5" fill="#fff" stroke="#B674FC" stroke-width="2"/><path d="M1660 1331A12.5 12.5 0 0 1 1685 1331Z" fill="#B674FC"/>
<circle cx="1686.5" cy="1329.5" r="11.5" fill="#fff" stroke="#B674FC" stroke-width="2"/><path d="M1674 1331A12.5 12.5 0 0 1 1699 1331Z" fill="#B674FC"/>
<circle cx="1701.5" cy="1329.5" r="11.5" fill="#fff" stroke="#B674FC" stroke-width="2"/><path d="M1689 1331A12.5 12.5 0 0 1 1714 1331Z" fill="#B674FC"/>
<circle cx="1716.5" cy="1329.5" r="11.5" fill="#fff" stroke="#B674FC" stroke-width="2"/><path d="M1704 1331A12.5 12.5 0 0 1 1729 1331Z" fill="#B674FC"/>
<circle cx="1730.5" cy="1329.5" r="11.5" fill="#fff" stroke="#B674FC" stroke-width="2"/><path d="M1718 1331A12.5 12.5 0 0 1 1743 1331Z" fill="#B674FC"/>
<circle cx="1745.5" cy="1329.5" r="11.5" fill="#fff" stroke="#B674FC" stroke-width="2"/><path d="M1733 1331A12.5 12.5 0 0 1 1758 1331Z" fill="#B674FC"/>
<circle cx="1760.5" cy="1329.5" r="11.5" fill="#fff" stroke="#B674FC" stroke-width="2"/><path d="M1748 1331A12.5 12.5 0 0 1 1773 1331Z" fill="#B674FC"/>
<circle cx="1775.5" cy="1329.5" r="11.5" fill="#fff" stroke="#B674FC" stroke-width="2"/><path d="M1763 1331A12.5 12.5 0 0 1 1788 1331Z" fill="#B674FC"/>
<circle cx="1789.5" cy="1329.5" r="11.5" fill="#fff" stroke="#B674FC" stroke-width="2"/><path d="M1777 1331A12.5 12.5 0 0 1 1802 1331Z" fill="#B674FC"/>
</g>
<g>
<path d="M487.1 1215.2L489.8 1207.8M500.4 1173.8L505.9 1153.2M514.5 1118.7L521.2 1090.3M528.2 1055.4L536.9 1003.6M542.8 968.4L551.7 914.6M557 879.4L566.9 805.6M572.4 770.5L581 720.5M586.2 685.3L596.5 602.7M601.2 567.4L610.9 499.6M616.1 464.4L625.5 400.6M631.2 365.5L639.7 317.5M645.3 282.4L655.1 211.6M662.8 177L667 163M689.4 181.6L699.2 250.4M703.3 285.7L714.7 405.3M717.7 440.7L729.7 594.3M732.6 629.7L744.3 765.3M747.3 800.7L758.9 935.3M762.4 970.7L773.3 1074.3M778 1109.6L787 1165.4M794.1 1200.3L800.4 1225.7M811 1259.6L812.9 1264.4" stroke="#008080" stroke-width="4.5" fill="none"/>
<path d="M171.4 1315L173.6 1315L188 1341L157 1341Z" fill="#008080"/><path d="M163.1 1333L181.9 1333L185.2 1339L159.8 1339Z" fill="#fff"/>
<path d="M186.4 1316L188.6 1316L203 1342L172 1342Z" fill="#008080"/><path d="M178.1 1334L196.9 1334L200.2 1340L174.8 1340Z" fill="#fff"/>
<path d="M200.4 1315L202.6 1315L217 1341L186 1341Z" fill="#008080"/><path d="M192.1 1333L210.9 1333L214.2 1339L188.8 1339Z" fill="#fff"/>
<path d="M215.4 1314L217.6 1314L232 1340L201 1340Z" fill="#008080"/><path d="M207.1 1332L225.9 1332L229.2 1338L203.8 1338Z" fill="#fff"/>
<path d="M230.4 1315L232.6 1315L247 1341L216 1341Z" fill="#008080"/><path d="M222.1 1333L240.9 1333L244.2 1339L218.8 1339Z" fill="#fff"/>
<path d="M244.4 1313L246.6 1313L261 1339L230 1339Z" fill="#008080"/><path d="M236.1 1331L254.9 1331L258.2 1337L232.8 1337Z" fill="#fff"/>
<path d="M259.4 1314L261.6 1314L276 1340L245 1340Z" fill="#008080"/><path d="M251.1 1332L269.9 1332L273.2 1338L247.8 1338Z" fill="#fff"/>
<path d="M274.4 1315L276.6 1315L291 1341L260 1341Z" fill="#008080"/><path d="M266.1 1333L284.9 1333L288.2 1339L262.8 1339Z" fill="#fff"/>
<path d="M288.4 1314L290.6 1314L305 1340L274 1340Z" fill="#008080"/><path d="M280.1 1332L298.9 1332L302.2 1338L276.8 1338Z" fill="#fff"/>
<path d="M303.4 1315L305.6 1315L320 1341L289 1341Z" fill="#008080"/><path d="M295.1 1333L313.9 1333L317.2 1339L291.8 1339Z" fill="#fff"/>
<path d="M318.4 1314L320.6 1314L335 1340L304 1340Z" fill="#008080"/><path d="M310.1 1332L328.9 1332L332.2 1338L306.8 1338Z" fill="#fff"/>
<path d="M333.4 1314L335.6 1314L350 1340L319 1340Z" fill="#008080"/><path d="M325.1 1332L343.9 1332L347.2 1338L321.8 1338Z" fill="#fff"/>
<path d="M347.4 1312L349.6 1312L364 1338L333 1338Z" fill="#008080"/><path d="M339.1 1330L357.9 1330L361.2 1336L335.8 1336Z" fill="#fff"/>
<path d="M362.4 1311L364.6 1311L379 1337L348 1337Z" fill="#008080"/><path d="M354.1 1329L372.9 1329L376.2 1335L350.8 1335Z" fill="#fff"/>
<path d="M377.4 1309L379.6 1309L394 1335L363 1335Z" fill="#008080"/><path d="M369.1 1327L387.9 1327L391.2 1333L365.8 1333Z" fill="#fff"/>
<path d="M391.4 1306L393.6 1306L408 1332L377 1332Z" fill="#008080"/><path d="M383.1 1324L401.9 1324L405.2 1330L379.8 1330Z" fill="#fff"/>
<path d="M406.4 1302L408.6 1302L423 1328L392 1328Z" fill="#008080"/><path d="M398.1 1320L416.9 1320L420.2 1326L394.8 1326Z" fill="#fff"/>
<path d="M421.4 1294L423.6 1294L438 1320L407 1320Z" fill="#008080"/><path d="M413.1 1312L431.9 1312L435.2 1318L409.8 1318Z" fill="#fff"/>
<path d="M435.4 1284L437.6 1284L452 1310L421 1310Z" fill="#008080"/><path d="M427.1 1302L445.9 1302L449.2 1308L423.8 1308Z" fill="#fff"/>
<path d="M450.4 1268L452.6 1268L467 1294L436 1294Z" fill="#008080"/><path d="M442.1 1286L460.9 1286L464.2 1292L438.8 1292Z" fill="#fff"/>
<path d="M465.4 1242L467.6 1242L482 1268L451 1268Z" fill="#008080"/><path d="M457.1 1260L475.9 1260L479.2 1266L453.8 1266Z" fill="#fff"/>
<path d="M480.4 1215L482.6 1215L497 1241L466 1241Z" fill="#008080"/><path d="M472.1 1233L490.9 1233L494.2 1239L468.8 1239Z" fill="#fff"/>
<path d="M494.4 1174L496.6 1174L511 1200L480 1200Z" fill="#008080"/><path d="M486.1 1192L504.9 1192L508.2 1198L482.8 1198Z" fill="#fff"/>
<path d="M509.4 1119L511.6 1119L526 1145L495 1145Z" fill="#008080"/><path d="M501.1 1137L519.9 1137L523.2 1143L497.8 1143Z" fill="#fff"/>
<path d="M524.4 1056L526.6 1056L541 1082L510 1082Z" fill="#008080"/><path d="M516.1 1074L534.9 1074L538.2 1080L512.8 1080Z" fill="#fff"/>
<path d="M538.4 969L540.6 969L555 995L524 995Z" fill="#008080"/><path d="M530.1 987L548.9 987L552.2 993L526.8 993Z" fill="#fff"/>
<path d="M553.4 880L555.6 880L570 906L539 906Z" fill="#008080"/><path d="M545.1 898L563.9 898L567.2 904L541.8 904Z" fill="#fff"/>
<path d="M568.4 771L570.6 771L585 797L554 797Z" fill="#008080"/><path d="M560.1 789L578.9 789L582.2 795L556.8 795Z" fill="#fff"/>
<path d="M583.4 686L585.6 686L600 712L569 712Z" fill="#008080"/><path d="M575.1 704L593.9 704L597.2 710L571.8 710Z" fill="#fff"/>
<path d="M597.4 568L599.6 568L614 594L583 594Z" fill="#008080"/><path d="M589.1 586L607.9 586L611.2 592L585.8 592Z" fill="#fff"/>
<path d="M612.4 465L614.6 465L629 491L598 491Z" fill="#008080"/><path d="M604.1 483L622.9 483L626.2 489L600.8 489Z" fill="#fff"/>
<path d="M627.4 366L629.6 366L644 392L613 392Z" fill="#008080"/><path d="M619.1 384L637.9 384L641.2 390L615.8 390Z" fill="#fff"/>
<path d="M641.4 283L643.6 283L658 309L627 309Z" fill="#008080"/><path d="M633.1 301L651.9 301L655.2 307L629.8 307Z" fill="#fff"/>
<path d="M656.4 177L658.6 177L673 203L642 203Z" fill="#008080"/><path d="M648.1 195L666.9 195L670.2 201L644.8 201Z" fill="#fff"/>
<path d="M671.4 129L673.6 129L688 155L657 155Z" fill="#008080"/><path d="M663.1 147L681.9 147L685.2 153L659.8 153Z" fill="#fff"/>
<path d="M685.4 147L687.6 147L702 173L671 173Z" fill="#008080"/><path d="M677.1 165L695.9 165L699.2 171L673.8 171Z" fill="#fff"/>
<path d="M700.4 251L702.6 251L717 277L686 277Z" fill="#008080"/><path d="M692.1 269L710.9 269L714.2 275L688.8 275Z" fill="#fff"/>
<path d="M715.4 406L717.6 406L732 432L701 432Z" fill="#008080"/><path d="M707.1 424L725.9 424L729.2 430L703.8 430Z" fill="#fff"/>
<path d="M730.4 595L732.6 595L747 621L716 621Z" fill="#008080"/><path d="M722.1 613L740.9 613L744.2 619L718.8 619Z" fill="#fff"/>
<path d="M744.4 766L746.6 766L761 792L730 792Z" fill="#008080"/><path d="M736.1 784L754.9 784L758.2 790L732.8 790Z" fill="#fff"/>
<path d="M759.4 936L761.6 936L776 962L745 962Z" fill="#008080"/><path d="M751.1 954L769.9 954L773.2 960L747.8 960Z" fill="#fff"/>
<path d="M774.4 1075L776.6 1075L791 1101L760 1101Z" fill="#008080"/><path d="M766.1 1093L784.9 1093L788.2 1099L762.8 1099Z" fill="#fff"/>
<path d="M788.4 1166L790.6 1166L805 1192L774 1192Z" fill="#008080"/><path d="M780.1 1184L798.9 1184L802.2 1190L776.8 1190Z" fill="#fff"/>
<path d="M803.4 1226L805.6 1226L820 1252L789 1252Z" fill="#008080"/><path d="M795.1 1244L813.9 1244L817.2 1250L791.8 1250Z" fill="#fff"/>
<path d="M818.4 1264L820.6 1264L835 1290L804 1290Z" fill="#008080"/><path d="M810.1 1282L828.9 1282L832.2 1288L806.8 1288Z" fill="#fff"/>
<path d="M833.4 1287L835.6 1287L850 1313L819 1313Z" fill="#008080"/><path d="M825.1 1305L843.9 1305L847.2 1311L821.8 1311Z" fill="#fff"/>
<path d="M847.4 1297L849.6 1297L864 1323L833 1323Z" fill="#008080"/><path d="M839.1 1315L857.9 1315L861.2 1321L835.8 1321Z" fill="#fff"/>
<path d="M862.4 1302L864.6 1302L879 1328L848 1328Z" fill="#008080"/><path d="M854.1 1320L872.9 1320L876.2 1326L850.8 1326Z" fill="#fff"/>
<path d="M877.4 1304L879.6 1304L894 1330L863 1330Z" fill="#008080"/><path d="M869.1 1322L887.9 1322L891.2 1328L865.8 1328Z" fill="#fff"/>
<path d="M891.4 1306L893.6 1306L908 1332L877 1332Z" fill="#008080"/><path d="M883.1 1324L901.9 1324L905.2 1330L879.8 1330Z" fill="#fff"/>
<path d="M906.4 1306L908.6 1306L923 1332L892 1332Z" fill="#008080"/><path d="M898.1 1324L916.9 1324L920.2 1330L894.8 1330Z" fill="#fff"/>
<path d="M921.4 1308L923.6 1308L938 1334L907 1334Z" fill="#008080"/><path d="M913.1 1326L931.9 1326L935.2 1332L909.8 1332Z" fill="#fff"/>
<path d="M935.4 1309L937.6 1309L952 1335L921 1335Z" fill="#008080"/><path d="M927.1 1327L945.9 1327L949.2 1333L923.8 1333Z" fill="#fff"/>
<path d="M950.4 1309L952.6 1309L967 1335L936 1335Z" fill="#008080"/><path d="M942.1 1327L960.9 1327L964.2 1333L938.8 1333Z" fill="#fff"/>
<path d="M965.4 1309L967.6 1309L982 1335L951 1335Z" fill="#008080"/><path d="M957.1 1327L975.9 1327L979.2 1333L953.8 1333Z" fill="#fff"/>
<path d="M980.4 1309L982.6 1309L997 1335L966 1335Z" fill="#008080"/><path d="M972.1 1327L990.9 1327L994.2 1333L968.8 1333Z" fill="#fff"/>
<path d="M994.4 1309L996.6 1309L1011 1335L980 1335Z" fill="#008080"/><path d="M986.1 1327L1004.9 1327L1008.2 1333L982.8 1333Z" fill="#fff"/>
<path d="M1009.4 1310L1011.6 1310L1026 1336L995 1336Z" fill="#008080"/><path d="M1001.1 1328L1019.9 1328L1023.2 1334L997.8 1334Z" fill="#fff"/>
<path d="M1024.4 1309L1026.6 1309L1041 1335L1010 1335Z" fill="#008080"/><path d="M1016.1 1327L1034.9 1327L1038.2 1333L1012.8 1333Z" fill="#fff"/>
<path d="M1038.4 1310L1040.6 1310L1055 1336L1024 1336Z" fill="#008080"/><path d="M1030.1 1328L1048.9 1328L1052.2 1334L1026.8 1334Z" fill="#fff"/>
<path d="M1053.4 1310L1055.6 1310L1070 1336L1039 1336Z" fill="#008080"/><path d="M1045.1 1328L1063.9 1328L1067.2 1334L1041.8 1334Z" fill="#fff"/>
<path d="M1068.4 1309L1070.6 1309L1085 1335L1054 1335Z" fill="#008080"/><path d="M1060.1 1327L1078.9 1327L1082.2 1333L1056.8 1333Z" fill="#fff"/>
<path d="M1082.4 1310L1084.6 1310L1099 1336L1068 1336Z" fill="#008080"/><path d="M1074.1 1328L1092.9 1328L1096.2 1334L1070.8 1334Z" fill="#fff"/>
<path d="M1097.4 1312L1099.6 1312L1114 1338L1083 1338Z" fill="#008080"/><path d="M1089.1 1330L1107.9 1330L1111.2 1336L1085.8 1336Z" fill="#fff"/>
<path d="M1112.4 1309L1114.6 1309L1129 1335L1098 1335Z" fill="#008080"/><path d="M1104.1 1327L1122.9 1327L1126.2 1333L1100.8 1333Z" fill="#fff"/>
<path d="M1127.4 1309L1129.6 1309L1144 1335L1113 1335Z" fill="#008080"/><path d="M1119.1 1327L1137.9 1327L1141.2 1333L1115.8 1333Z" fill="#fff"/>
<path d="M1141.4 1310L1143.6 1310L1158 1336L1127 1336Z" fill="#008080"/><path d="M1133.1 1328L1151.9 1328L1155.2 1334L1129.8 1334Z" fill="#fff"/>
<path d="M1156.4 1310L1158.6 1310L1173 1336L1142 1336Z" fill="#008080"/><path d="M1148.1 1328L1166.9 1328L1170.2 1334L1144.8 1334Z" fill="#fff"/>
<path d="M1171.4 1310L1173.6 1310L1188 1336L1157 1336Z" fill="#008080"/><path d="M1163.1 1328L1181.9 1328L1185.2 1334L1159.8 1334Z" fill="#fff"/>
<path d="M1185.4 1310L1187.6 1310L1202 1336L1171 1336Z" fill="#008080"/><path d="M1177.1 1328L1195.9 1328L1199.2 1334L1173.8 1334Z" fill="#fff"/>
<path d="M1200.4 1310L1202.6 1310L1217 1336L1186 1336Z" fill="#008080"/><path d="M1192.1 1328L1210.9 1328L1214.2 1334L1188.8 1334Z" fill="#fff"/>
<path d="M1215.4 1309L1217.6 1309L1232 1335L1201 1335Z" fill="#008080"/><path d="M1207.1 1327L1225.9 1327L1229.2 1333L1203.8 1333Z" fill="#fff"/>
<path d="M1230.4 1310L1232.6 1310L1247 1336L1216 1336Z" fill="#008080"/><path d="M1222.1 1328L1240.9 1328L1244.2 1334L1218.8 1334Z" fill="#fff"/>
<path d="M1244.4 1310L1246.6 1310L1261 1336L1230 1336Z" fill="#008080"/><path d="M1236.1 1328L1254.9 1328L1258.2 1334L1232.8 1334Z" fill="#fff"/>
<path d="M1259.4 1309L1261.6 1309L1276 1335L1245 1335Z" fill="#008080"/><path d="M1251.1 1327L1269.9 1327L1273.2 1333L1247.8 1333Z" fill="#fff"/>
<path d="M1274.4 1309L1276.6 1309L1291 1335L1260 1335Z" fill="#008080"/><path d="M1266.1 1327L1284.9 1327L1288.2 1333L1262.8 1333Z" fill="#fff"/>
<path d="M1288.4 1310L1290.6 1310L1305 1336L1274 1336Z" fill="#008080"/><path d="M1280.1 1328L1298.9 1328L1302.2 1334L1276.8 1334Z" fill="#fff"/>
<path d="M1303.4 1310L1305.6 1310L1320 1336L1289 1336Z" fill="#008080"/><path d="M1295.1 1328L1313.9 1328L1317.2 1334L1291.8 1334Z" fill="#fff"/>
<path d="M1318.4 1307L1320.6 1307L1335 1333L1304 1333Z" fill="#008080"/><path d="M1310.1 1325L1328.9 1325L1332.2 1331L1306.8 1331Z" fill="#fff"/>
<path d="M1332.4 1309L1334.6 1309L1349 1335L1318 1335Z" fill="#008080"/><path d="M1324.1 1327L1342.9 1327L1346.2 1333L1320.8 1333Z" fill="#fff"/>
<path d="M1347.4 1308L1349.6 1308L1364 1334L1333 1334Z" fill="#008080"/><path d="M1339.1 1326L1357.9 1326L1361.2 1332L1335.8 1332Z" fill="#fff"/>
<path d="M1362.4 1309L1364.6 1309L1379 1335L1348 1335Z" fill="#008080"/><path d="M1354.1 1327L1372.9 1327L1376.2 1333L1350.8 1333Z" fill="#fff"/>
<path d="M1377.4 1309L1379.6 1309L1394 1335L1363 1335Z" fill="#008080"/><path d="M1369.1 1327L1387.9 1327L1391.2 1333L1365.8 1333Z" fill="#fff"/>
<path d="M1391.4 1309L1393.6 1309L1408 1335L1377 1335Z" fill="#008080"/><path d="M1383.1 1327L1401.9 1327L1405.2 1333L1379.8 1333Z" fill="#fff"/>
<path d="M1406.4 1309L1408.6 1309L1423 1335L1392 1335Z" fill="#008080"/><path d="M1398.1 1327L1416.9 1327L1420.2 1333L1394.8 1333Z" fill="#fff"/>
<path d="M1421.4 1309L1423.6 1309L1438 1335L1407 1335Z" fill="#008080"/><path d="M1413.1 1327L1431.9 1327L1435.2 1333L1409.8 1333Z" fill="#fff"/>
<path d="M1435.4 1307L1437.6 1307L1452 1333L1421 1333Z" fill="#008080"/><path d="M1427.1 1325L1445.9 1325L1449.2 1331L1423.8 1331Z" fill="#fff"/>
<path d="M1450.4 1309L1452.6 1309L1467 1335L1436 1335Z" fill="#008080"/><path d="M1442.1 1327L1460.9 1327L1464.2 1333L1438.8 1333Z" fill="#fff"/>
<path d="M1465.4 1308L1467.6 1308L1482 1334L1451 1334Z" fill="#008080"/><path d="M1457.1 1326L1475.9 1326L1479.2 1332L1453.8 1332Z" fill="#fff"/>
<path d="M1480.4 1308L1482.6 1308L1497 1334L1466 1334Z" fill="#008080"/><path d="M1472.1 1326L1490.9 1326L1494.2 1332L1468.8 1332Z" fill="#fff"/>
<path d="M1494.4 1307L1496.6 1307L1511 1333L1480 1333Z" fill="#008080"/><path d="M1486.1 1325L1504.9 1325L1508.2 1331L1482.8 1331Z" fill="#fff"/>
<path d="M1509.4 1308L1511.6 1308L1526 1334L1495 1334Z" fill="#008080"/><path d="M1501.1 1326L1519.9 1326L1523.2 1332L1497.8 1332Z" fill="#fff"/>
<path d="M1524.4 1309L1526.6 1309L1541 1335L1510 1335Z" fill="#008080"/><path d="M1516.1 1327L1534.9 1327L1538.2 1333L1512.8 1333Z" fill="#fff"/>
<path d="M1538.4 1307L1540.6 1307L1555 1333L1524 1333Z" fill="#008080"/><path d="M1530.1 1325L1548.9 1325L1552.2 1331L1526.8 1331Z" fill="#fff"/>
<path d="M1553.4 1309L1555.6 1309L1570 1335L1539 1335Z" fill="#008080"/><path d="M1545.1 1327L1563.9 1327L1567.2 1333L1541.8 1333Z" fill="#fff"/>
<path d="M1568.4 1308L1570.6 1308L1585 1334L1554 1334Z" fill="#008080"/><path d="M1560.1 1326L1578.9 1326L1582.2 1332L1556.8 1332Z" fill="#fff"/>
<path d="M1582.4 1307L1584.6 1307L1599 1333L1568 1333Z" fill="#008080"/><path d="M1574.1 1325L1592.9 1325L1596.2 1331L1570.8 1331Z" fill="#fff"/>
<path d="M1597.4 1307L1599.6 1307L1614 1333L1583 1333Z" fill="#008080"/><path d="M1589.1 1325L1607.9 1325L1611.2 1331L1585.8 1331Z" fill="#fff"/>
<path d="M1612.4 1308L1614.6 1308L1629 1334L1598 1334Z" fill="#008080"/><path d="M1604.1 1326L1622.9 1326L1626.2 1332L1600.8 1332Z" fill="#fff"/>
<path d="M1627.4 1308L1629.6 1308L1644 1334L1613 1334Z" fill="#008080"/><path d="M1619.1 1326L1637.9 1326L1641.2 1332L1615.8 1332Z" fill="#fff"/>
<path d="M1641.4 1307L1643.6 1307L1658 1333L1627 1333Z" fill="#008080"/><path d="M1633.1 1325L1651.9 1325L1655.2 1331L1629.8 1331Z" fill="#fff"/>
<path d="M1656.4 1309L1658.6 1309L1673 1335L1642 1335Z" fill="#008080"/><path d="M1648.1 1327L1666.9 1327L1670.2 1333L1644.8 1333Z" fill="#fff"/>
<path d="M1671.4 1307L1673.6 1307L1688 1333L1657 1333Z" fill="#008080"/><path d="M1663.1 1325L1681.9 1325L1685.2 1331L1659.8 1331Z" fill="#fff"/>
<path d="M1685.4 1307L1687.6 1307L1702 1333L1671 1333Z" fill="#008080"/><path d="M1677.1 1325L1695.9 1325L1699.2 1331L1673.8 1331Z" fill="#fff"/>
<path d="M1700.4 1308L1702.6 1308L1717 1334L1686 1334Z" fill="#008080"/><path d="M1692.1 1326L1710.9 1326L1714.2 1332L1688.8 1332Z" fill="#fff"/>
<path d="M1715.4 1308L1717.6 1308L1732 1334L1701 1334Z" fill="#008080"/><path d="M1707.1 1326L1725.9 1326L1729.2 1332L1703.8 1332Z" fill="#fff"/>
<path d="M1729.4 1306L1731.6 1306L1746 1332L1715 1332Z" fill="#008080"/><path d="M1721.1 1324L1739.9 1324L1743.2 1330L1717.8 1330Z" fill="#fff"/>
<path d="M1744.4 1308L1746.6 1308L1761 1334L1730 1334Z" fill="#008080"/><path d="M1736.1 1326L1754.9 1326L1758.2 1332L1732.8 1332Z" fill="#fff"/>
<path d="M1759.4 1306L1761.6 1306L1776 1332L1745 1332Z" fill="#008080"/><path d="M1751.1 1324L1769.9 1324L1773.2 1330L1747.8 1330Z" fill="#fff"/>
<path d="M1774.4 1307L1776.6 1307L1791 1333L1760 1333Z" fill="#008080"/><path d="M1766.1 1325L1784.9 1325L1788.2 1331L1762.8 1331Z" fill="#fff"/>
<path d="M1788.4 1306L1790.6 1306L1805 1332L1774 1332Z" fill="#008080"/><path d="M1780.1 1324L1798.9 1324L1802.2 1330L1776.8 1330Z" fill="#fff"/>
</g>
<g>
<path d="M458.4 1260.5L459.7 1257.5M471.1 1223.8L476.4 1204.2M484.5 1169.5L492.4 1128.5M498.2 1093.4L508.1 1021.6M512.6 986.3L523.1 898.7M527.1 863.3L538 763.7M541.5 728.3L553 602.7M556.1 567.3L567.8 429.7M570.8 394.3L582.5 255.7M586.8 220.4L596 162.6M603.3 162.2L608.9 183.8M614.4 218.8L627.1 447.2M628.9 482.8L642.1 782.2M643.7 817.8L656.7 1084.2M659.3 1119.7L670.5 1236.3M678.1 1270.8L681.1 1279.2" stroke="#F8393C" stroke-width="4.5" fill="none"/>
<path d="M171.5 1323L173.5 1323L185 1329.5L185 1344L173.5 1351L171.5 1351L160 1344L160 1329.5Z" fill="#F8393C"/><path d="M162 1338L183 1338L183 1342.9L172.5 1348.7L162 1342.9Z" fill="#fff"/>
<path d="M186.5 1323L188.5 1323L200 1329.5L200 1344L188.5 1351L186.5 1351L175 1344L175 1329.5Z" fill="#F8393C"/><path d="M177 1338L198 1338L198 1342.9L187.5 1348.7L177 1342.9Z" fill="#fff"/>
<path d="M200.5 1323L202.5 1323L214 1329.5L214 1344L202.5 1351L200.5 1351L189 1344L189 1329.5Z" fill="#F8393C"/><path d="M191 1338L212 1338L212 1342.9L201.5 1348.7L191 1342.9Z" fill="#fff"/>
<path d="M215.5 1323L217.5 1323L229 1329.5L229 1344L217.5 1351L215.5 1351L204 1344L204 1329.5Z" fill="#F8393C"/><path d="M206 1338L227 1338L227 1342.9L216.5 1348.7L206 1342.9Z" fill="#fff"/>
<path d="M230.5 1323L232.5 1323L244 1329.5L244 1344L232.5 1351L230.5 1351L219 1344L219 1329.5Z" fill="#F8393C"/><path d="M221 1338L242 1338L242 1342.9L231.5 1348.7L221 1342.9Z" fill="#fff"/>
<path d="M244.5 1322L246.5 1322L258 1328.5L258 1343L246.5 1350L244.5 1350L233 1343L233 1328.5Z" fill="#F8393C"/><path d="M235 1337L256 1337L256 1341.9L245.5 1347.7L235 1341.9Z" fill="#fff"/>
<path d="M259.5 1322L261.5 1322L273 1328.5L273 1343L261.5 1350L259.5 1350L248 1343L248 1328.5Z" fill="#F8393C"/><path d="M250 1337L271 1337L271 1341.9L260.5 1347.7L250 1341.9Z" fill="#fff"/>
<path d="M274.5 1322L276.5 1322L288 1328.5L288 1343L276.5 1350L274.5 1350L263 1343L263 1328.5Z" fill="#F8393C"/><path d="M265 1337L286 1337L286 1341.9L275.5 1347.7L265 1341.9Z" fill="#fff"/>
<path d="M288.5 1322L290.5 1322L302 1328.5L302 1343L290.5 1350L288.5 1350L277 1343L277 1328.5Z" fill="#F8393C"/><path d="M279 1337L300 1337L300 1341.9L289.5 1347.7L279 1341.9Z" fill="#fff"/>
<path d="M303.5 1322L305.5 1322L317 1328.5L317 1343L305.5 1350L303.5 1350L292 1343L292 1328.5Z" fill="#F8393C"/><path d="M294 1337L315 1337L315 1341.9L304.5 1347.7L294 1341.9Z" fill="#fff"/>
<path d="M318.5 1321L320.5 1321L332 1327.5L332 1342L320.5 1349L318.5 1349L307 1342L307 1327.5Z" fill="#F8393C"/><path d="M309 1336L330 1336L330 1340.9L319.5 1346.7L309 1340.9Z" fill="#fff"/>
<path d="M333.5 1321L335.5 1321L347 1327.5L347 1342L335.5 1349L333.5 1349L322 1342L322 1327.5Z" fill="#F8393C"/><path d="M324 1336L345 1336L345 1340.9L334.5 1346.7L324 1340.9Z" fill="#fff"/>
<path d="M347.5 1319L349.5 1319L361 1325.5L361 1340L349.5 1347L347.5 1347L336 1340L336 1325.5Z" fill="#F8393C"/><path d="M338 1334L359 1334L359 1338.9L348.5 1344.7L338 1338.9Z" fill="#fff"/>
<path d="M362.5 1318L364.5 1318L376 1324.5L376 1339L364.5 1346L362.5 1346L351 1339L351 1324.5Z" fill="#F8393C"/><path d="M353 1333L374 1333L374 1337.9L363.5 1343.7L353 1337.9Z" fill="#fff"/>
<path d="M377.5 1316L379.5 1316L391 1322.5L391 1337L379.5 1344L377.5 1344L366 1337L366 1322.5Z" fill="#F8393C"/><path d="M368 1331L389 1331L389 1335.9L378.5 1341.7L368 1335.9Z" fill="#fff"/>
<path d="M391.5 1314L393.5 1314L405 1320.5L405 1335L393.5 1342L391.5 1342L380 1335L380 1320.5Z" fill="#F8393C"/><path d="M382 1329L403 1329L403 1333.9L392.5 1339.7L382 1333.9Z" fill="#fff"/>
<path d="M406.5 1308L408.5 1308L420 1314.5L420 1329L408.5 1336L406.5 1336L395 1329L395 1314.5Z" fill="#F8393C"/><path d="M397 1323L418 1323L418 1327.9L407.5 1333.7L397 1327.9Z" fill="#fff"/>
<path d="M421.5 1300L423.5 1300L435 1306.5L435 1321L423.5 1328L421.5 1328L410 1321L410 1306.5Z" fill="#F8393C"/><path d="M412 1315L433 1315L433 1319.9L422.5 1325.7L412 1319.9Z" fill="#fff"/>
<path d="M435.5 1286L437.5 1286L449 1292.5L449 1307L437.5 1314L435.5 1314L424 1307L424 1292.5Z" fill="#F8393C"/><path d="M426 1301L447 1301L447 1305.9L436.5 1311.7L426 1305.9Z" fill="#fff"/>
<path d="M450.5 1263L452.5 1263L464 1269.5L464 1284L452.5 1291L450.5 1291L439 1284L439 1269.5Z" fill="#F8393C"/><path d="M441 1278L462 1278L462 1282.9L451.5 1288.7L441 1282.9Z" fill="#fff"/>
<path d="M465.5 1227L467.5 1227L479 1233.5L479 1248L467.5 1255L465.5 1255L454 1248L454 1233.5Z" fill="#F8393C"/><path d="M456 1242L477 1242L477 1246.9L466.5 1252.7L456 1246.9Z" fill="#fff"/>
<path d="M480.5 1173L482.5 1173L494 1179.5L494 1194L482.5 1201L480.5 1201L469 1194L469 1179.5Z" fill="#F8393C"/><path d="M471 1188L492 1188L492 1192.9L481.5 1198.7L471 1192.9Z" fill="#fff"/>
<path d="M494.5 1097L496.5 1097L508 1103.5L508 1118L496.5 1125L494.5 1125L483 1118L483 1103.5Z" fill="#F8393C"/><path d="M485 1112L506 1112L506 1116.9L495.5 1122.7L485 1116.9Z" fill="#fff"/>
<path d="M509.5 990L511.5 990L523 996.5L523 1011L511.5 1018L509.5 1018L498 1011L498 996.5Z" fill="#F8393C"/><path d="M500 1005L521 1005L521 1009.9L510.5 1015.7L500 1009.9Z" fill="#fff"/>
<path d="M524.5 867L526.5 867L538 873.5L538 888L526.5 895L524.5 895L513 888L513 873.5Z" fill="#F8393C"/><path d="M515 882L536 882L536 886.9L525.5 892.7L515 886.9Z" fill="#fff"/>
<path d="M538.5 732L540.5 732L552 738.5L552 753L540.5 760L538.5 760L527 753L527 738.5Z" fill="#F8393C"/><path d="M529 747L550 747L550 751.9L539.5 757.7L529 751.9Z" fill="#fff"/>
<path d="M553.5 571L555.5 571L567 577.5L567 592L555.5 599L553.5 599L542 592L542 577.5Z" fill="#F8393C"/><path d="M544 586L565 586L565 590.9L554.5 596.7L544 590.9Z" fill="#fff"/>
<path d="M568.5 398L570.5 398L582 404.5L582 419L570.5 426L568.5 426L557 419L557 404.5Z" fill="#F8393C"/><path d="M559 413L580 413L580 417.9L569.5 423.7L559 417.9Z" fill="#fff"/>
<path d="M583.5 224L585.5 224L597 230.5L597 245L585.5 252L583.5 252L572 245L572 230.5Z" fill="#F8393C"/><path d="M574 239L595 239L595 243.9L584.5 249.7L574 243.9Z" fill="#fff"/>
<path d="M597.5 131L599.5 131L611 137.5L611 152L599.5 159L597.5 159L586 152L586 137.5Z" fill="#F8393C"/><path d="M588 146L609 146L609 150.9L598.5 156.7L588 150.9Z" fill="#fff"/>
<path d="M612.5 187L614.5 187L626 193.5L626 208L614.5 215L612.5 215L601 208L601 193.5Z" fill="#F8393C"/><path d="M603 202L624 202L624 206.9L613.5 212.7L603 206.9Z" fill="#fff"/>
<path d="M627.5 451L629.5 451L641 457.5L641 472L629.5 479L627.5 479L616 472L616 457.5Z" fill="#F8393C"/><path d="M618 466L639 466L639 470.9L628.5 476.7L618 470.9Z" fill="#fff"/>
<path d="M641.5 786L643.5 786L655 792.5L655 807L643.5 814L641.5 814L630 807L630 792.5Z" fill="#F8393C"/><path d="M632 801L653 801L653 805.9L642.5 811.7L632 805.9Z" fill="#fff"/>
<path d="M656.5 1088L658.5 1088L670 1094.5L670 1109L658.5 1116L656.5 1116L645 1109L645 1094.5Z" fill="#F8393C"/><path d="M647 1103L668 1103L668 1107.9L657.5 1113.7L647 1107.9Z" fill="#fff"/>
<path d="M671.5 1240L673.5 1240L685 1246.5L685 1261L673.5 1268L671.5 1268L660 1261L660 1246.5Z" fill="#F8393C"/><path d="M662 1255L683 1255L683 1259.9L672.5 1265.7L662 1259.9Z" fill="#fff"/>
<path d="M685.5 1282L687.5 1282L699 1288.5L699 1303L687.5 1310L685.5 1310L674 1303L674 1288.5Z" fill="#F8393C"/><path d="M676 1297L697 1297L697 1301.9L686.5 1307.7L676 1301.9Z" fill="#fff"/>
<path d="M700.5 1295L702.5 1295L714 1301.5L714 1316L702.5 1323L700.5 1323L689 1316L689 1301.5Z" fill="#F8393C"/><path d="M691 1310L712 1310L712 1314.9L701.5 1320.7L691 1314.9Z" fill="#fff"/>
<path d="M715.5 1302L717.5 1302L729 1308.5L729 1323L717.5 1330L715.5 1330L704 1323L704 1308.5Z" fill="#F8393C"/><path d="M706 1317L727 1317L727 1321.9L716.5 1327.7L706 1321.9Z" fill="#fff"/>
<path d="M730.5 1306L732.5 1306L744 1312.5L744 1327L732.5 1334L730.5 1334L719 1327L719 1312.5Z" fill="#F8393C"/><path d="M721 1321L742 1321L742 1325.9L731.5 1331.7L721 1325.9Z" fill="#fff"/>
<path d="M744.5 1309L746.5 1309L758 1315.5L758 1330L746.5 1337L744.5 1337L733 1330L733 1315.5Z" fill="#F8393C"/><path d="M735 1324L756 1324L756 1328.9L745.5 1334.7L735 1328.9Z" fill="#fff"/>
<path d="M759.5 1312L761.5 1312L773 1318.5L773 1333L761.5 1340L759.5 1340L748 1333L748 1318.5Z" fill="#F8393C"/><path d="M750 1327L771 1327L771 1331.9L760.5 1337.7L750 1331.9Z" fill="#fff"/>
<path d="M774.5 1314L776.5 1314L788 1320.5L788 1335L776.5 1342L774.5 1342L763 1335L763 1320.5Z" fill="#F8393C"/><path d="M765 1329L786 1329L786 1333.9L775.5 1339.7L765 1333.9Z" fill="#fff"/>
<path d="M788.5 1315L790.5 1315L802 1321.5L802 1336L790.5 1343L788.5 1343L777 1336L777 1321.5Z" fill="#F8393C"/><path d="M779 1330L800 1330L800 1334.9L789.5 1340.7L779 1334.9Z" fill="#fff"/>
<path d="M803.5 1317L805.5 1317L817 1323.5L817 1338L805.5 1345L803.5 1345L792 1338L792 1323.5Z" fill="#F8393C"/><path d="M794 1332L815 1332L815 1336.9L804.5 1342.7L794 1336.9Z" fill="#fff"/>
<path d="M818.5 1318L820.5 1318L832 1324.5L832 1339L820.5 1346L818.5 1346L807 1339L807 1324.5Z" fill="#F8393C"/><path d="M809 1333L830 1333L830 1337.9L819.5 1343.7L809 1337.9Z" fill="#fff"/>
<path d="M833.5 1319L835.5 1319L847 1325.5L847 1340L835.5 1347L833.5 1347L822 1340L822 1325.5Z" fill="#F8393C"/><path d="M824 1334L845 1334L845 1338.9L834.5 1344.7L824 1338.9Z" fill="#fff"/>
<path d="M847.5 1319L849.5 1319L861 1325.5L861 1340L849.5 1347L847.5 1347L836 1340L836 1325.5Z" fill="#F8393C"/><path d="M838 1334L859 1334L859 1338.9L848.5 1344.7L838 1338.9Z" fill="#fff"/>
<path d="M862.5 1320L864.5 1320L876 1326.5L876 1341L864.5 1348L862.5 1348L851 1341L851 1326.5Z" fill="#F8393C"/><path d="M853 1335L874 1335L874 1339.9L863.5 1345.7L853 1339.9Z" fill="#fff"/>
<path d="M877.5 1320L879.5 1320L891 1326.5L891 1341L879.5 1348L877.5 1348L866 1341L866 1326.5Z" fill="#F8393C"/><path d="M868 1335L889 1335L889 1339.9L878.5 1345.7L868 1339.9Z" fill="#fff"/>
<path d="M891.5 1320L893.5 1320L905 1326.5L905 1341L893.5 1348L891.5 1348L880 1341L880 1326.5Z" fill="#F8393C"/><path d="M882 1335L903 1335L903 1339.9L892.5 1345.7L882 1339.9Z" fill="#fff"/>
<path d="M906.5 1320L908.5 1320L920 1326.5L920 1341L908.5 1348L906.5 1348L895 1341L895 1326.5Z" fill="#F8393C"/><path d="M897 1335L918 1335L918 1339.9L907.5 1345.7L897 1339.9Z" fill="#fff"/>
<path d="M921.5 1321L923.5 1321L935 1327.5L935 1342L923.5 1349L921.5 1349L910 1342L910 1327.5Z" fill="#F8393C"/><path d="M912 1336L933 1336L933 1340.9L922.5 1346.7L912 1340.9Z" fill="#fff"/>
<path d="M935.5 1321L937.5 1321L949 1327.5L949 1342L937.5 1349L935.5 1349L924 1342L924 1327.5Z" fill="#F8393C"/><path d="M926 1336L947 1336L947 1340.9L936.5 1346.7L926 1340.9Z" fill="#fff"/>
<path d="M950.5 1321L952.5 1321L964 1327.5L964 1342L952.5 1349L950.5 1349L939 1342L939 1327.5Z" fill="#F8393C"/><path d="M941 1336L962 1336L962 1340.9L951.5 1346.7L941 1340.9Z" fill="#fff"/>
<path d="M965.5 1321L967.5 1321L979 1327.5L979 1342L967.5 1349L965.5 1349L954 1342L954 1327.5Z" fill="#F8393C"/><path d="M956 1336L977 1336L977 1340.9L966.5 1346.7L956 1340.9Z" fill="#fff"/>
<path d="M980.5 1321L982.5 1321L994 1327.5L994 1342L982.5 1349L980.5 1349L969 1342L969 1327.5Z" fill="#F8393C"/><path d="M971 1336L992 1336L992 1340.9L981.5 1346.7L971 1340.9Z" fill="#fff"/>
<path d="M994.5 1321L996.5 1321L1008 1327.5L1008 1342L996.5 1349L994.5 1349L983 1342L983 1327.5Z" fill="#F8393C"/><path d="M985 1336L1006 1336L1006 1340.9L995.5 1346.7L985 1340.9Z" fill="#fff"/>
<path d="M1009.5 1321L1011.5 1321L1023 1327.5L1023 1342L1011.5 1349L1009.5 1349L998 1342L998 1327.5Z" fill="#F8393C"/><path d="M1000 1336L1021 1336L1021 1340.9L1010.5 1346.7L1000 1340.9Z" fill="#fff"/>
<path d="M1024.5 1321L1026.5 1321L1038 1327.5L1038 1342L1026.5 1349L1024.5 1349L1013 1342L1013 1327.5Z" fill="#F8393C"/><path d="M1015 1336L1036 1336L1036 1340.9L1025.5 1346.7L1015 1340.9Z" fill="#fff"/>
<path d="M1038.5 1321L1040.5 1321L1052 1327.5L1052 1342L1040.5 1349L1038.5 1349L1027 1342L1027 1327.5Z" fill="#F8393C"/><path d="M1029 1336L1050 1336L1050 1340.9L1039.5 1346.7L1029 1340.9Z" fill="#fff"/>
<path d="M1053.5 1322L1055.5 1322L1067 1328.5L1067 1343L1055.5 1350L1053.5 1350L1042 1343L1042 1328.5Z" fill="#F8393C"/><path d="M1044 1337L1065 1337L1065 1341.9L1054.5 1347.7L1044 1341.9Z" fill="#fff"/>
<path d="M1068.5 1322L1070.5 1322L1082 1328.5L1082 1343L1070.5 1350L1068.5 1350L1057 1343L1057 1328.5Z" fill="#F8393C"/><path d="M1059 1337L1080 1337L1080 1341.9L1069.5 1347.7L1059 1341.9Z" fill="#fff"/>
<path d="M1082.5 1322L1084.5 1322L1096 1328.5L1096 1343L1084.5 1350L1082.5 1350L1071 1343L1071 1328.5Z" fill="#F8393C"/><path d="M1073 1337L1094 1337L1094 1341.9L1083.5 1347.7L1073 1341.9Z" fill="#fff"/>
<path d="M1097.5 1322L1099.5 1322L1111 1328.5L1111 1343L1099.5 1350L1097.5 1350L1086 1343L1086 1328.5Z" fill="#F8393C"/><path d="M1088 1337L1109 1337L1109 1341.9L1098.5 1347.7L1088 1341.9Z" fill="#fff"/>
<path d="M1112.5 1322L1114.5 1322L1126 1328.5L1126 1343L1114.5 1350L1112.5 1350L1101 1343L1101 1328.5Z" fill="#F8393C"/><path d="M1103 1337L1124 1337L1124 1341.9L1113.5 1347.7L1103 1341.9Z" fill="#fff"/>
<path d="M1127.5 1322L1129.5 1322L1141 1328.5L1141 1343L1129.5 1350L1127.5 1350L1116 1343L1116 1328.5Z" fill="#F8393C"/><path d="M1118 1337L1139 1337L1139 1341.9L1128.5 1347.7L1118 1341.9Z" fill="#fff"/>
<path d="M1141.5 1322L1143.5 1322L1155 1328.5L1155 1343L1143.5 1350L1141.5 1350L1130 1343L1130 1328.5Z" fill="#F8393C"/><path d="M1132 1337L1153 1337L1153 1341.9L1142.5 1347.7L1132 1341.9Z" fill="#fff"/>
<path d="M1156.5 1322L1158.5 1322L1170 1328.5L1170 1343L1158.5 1350L1156.5 1350L1145 1343L1145 1328.5Z" fill="#F8393C"/><path d="M1147 1337L1168 1337L1168 1341.9L1157.5 1347.7L1147 1341.9Z" fill="#fff"/>
<path d="M1171.5 1322L1173.5 1322L1185 1328.5L1185 1343L1173.5 1350L1171.5 1350L1160 1343L1160 1328.5Z" fill="#F8393C"/><path d="M1162 1337L1183 1337L1183 1341.9L1172.5 1347.7L1162 1341.9Z" fill="#fff"/>
<path d="M1185.5 1322L1187.5 1322L1199 1328.5L1199 1343L1187.5 1350L1185.5 1350L1174 1343L1174 1328.5Z" fill="#F8393C"/><path d="M1176 1337L1197 1337L1197 1341.9L1186.5 1347.7L1176 1341.9Z" fill="#fff"/>
<path d="M1200.5 1322L1202.5 1322L1214 1328.5L1214 1343L1202.5 1350L1200.5 1350L1189 1343L1189 1328.5Z" fill="#F8393C"/><path d="M1191 1337L1212 1337L1212 1341.9L1201.5 1347.7L1191 1341.9Z" fill="#fff"/>
<path d="M1215.5 1322L1217.5 1322L1229 1328.5L1229 1343L1217.5 1350L1215.5 1350L1204 1343L1204 1328.5Z" fill="#F8393C"/><path d="M1206 1337L1227 1337L1227 1341.9L1216.5 1347.7L1206 1341.9Z" fill="#fff"/>
<path d="M1230.5 1322L1232.5 1322L1244 1328.5L1244 1343L1232.5 1350L1230.5 1350L1219 1343L1219 1328.5Z" fill="#F8393C"/><path d="M1221 1337L1242 1337L1242 1341.9L1231.5 1347.7L1221 1341.9Z" fill="#fff"/>
<path d="M1244.5 1322L1246.5 1322L1258 1328.5L1258 1343L1246.5 1350L1244.5 1350L1233 1343L1233 1328.5Z" fill="#F8393C"/><path d="M1235 1337L1256 1337L1256 1341.9L1245.5 1347.7L1235 1341.9Z" fill="#fff"/>
<path d="M1259.5 1322L1261.5 1322L1273 1328.5L1273 1343L1261.5 1350L1259.5 1350L1248 1343L1248 1328.5Z" fill="#F8393C"/><path d="M1250 1337L1271 1337L1271 1341.9L1260.5 1347.7L1250 1341.9Z" fill="#fff"/>
<path d="M1274.5 1322L1276.5 1322L1288 1328.5L1288 1343L1276.5 1350L1274.5 1350L1263 1343L1263 1328.5Z" fill="#F8393C"/><path d="M1265 1337L1286 1337L1286 1341.9L1275.5 1347.7L1265 1341.9Z" fill="#fff"/>
<path d="M1288.5 1322L1290.5 1322L1302 1328.5L1302 1343L1290.5 1350L1288.5 1350L1277 1343L1277 1328.5Z" fill="#F8393C"/><path d="M1279 1337L1300 1337L1300 1341.9L1289.5 1347.7L1279 1341.9Z" fill="#fff"/>
<path d="M1303.5 1322L1305.5 1322L1317 1328.5L1317 1343L1305.5 1350L1303.5 1350L1292 1343L1292 1328.5Z" fill="#F8393C"/><path d="M1294 1337L1315 1337L1315 1341.9L1304.5 1347.7L1294 1341.9Z" fill="#fff"/>
<path d="M1318.5 1322L1320.5 1322L1332 1328.5L1332 1343L1320.5 1350L1318.5 1350L1307 1343L1307 1328.5Z" fill="#F8393C"/><path d="M1309 1337L1330 1337L1330 1341.9L1319.5 1347.7L1309 1341.9Z" fill="#fff"/>
<path d="M1332.5 1322L1334.5 1322L1346 1328.5L1346 1343L1334.5 1350L1332.5 1350L1321 1343L1321 1328.5Z" fill="#F8393C"/><path d="M1323 1337L1344 1337L1344 1341.9L1333.5 1347.7L1323 1341.9Z" fill="#fff"/>
<path d="M1347.5 1322L1349.5 1322L1361 1328.5L1361 1343L1349.5 1350L1347.5 1350L1336 1343L1336 1328.5Z" fill="#F8393C"/><path d="M1338 1337L1359 1337L1359 1341.9L1348.5 1347.7L1338 1341.9Z" fill="#fff"/>
<path d="M1362.5 1322L1364.5 1322L1376 1328.5L1376 1343L1364.5 1350L1362.5 1350L1351 1343L1351 1328.5Z" fill="#F8393C"/><path d="M1353 1337L1374 1337L1374 1341.9L1363.5 1347.7L1353 1341.9Z" fill="#fff"/>
<path d="M1377.5 1322L1379.5 1322L1391 1328.5L1391 1343L1379.5 1350L1377.5 1350L1366 1343L1366 1328.5Z" fill="#F8393C"/><path d="M1368 1337L1389 1337L1389 1341.9L1378.5 1347.7L1368 1341.9Z" fill="#fff"/>
<path d="M1391.5 1322L1393.5 1322L1405 1328.5L1405 1343L1393.5 1350L1391.5 1350L1380 1343L1380 1328.5Z" fill="#F8393C"/><path d="M1382 1337L1403 1337L1403 1341.9L1392.5 1347.7L1382 1341.9Z" fill="#fff"/>
<path d="M1406.5 1322L1408.5 1322L1420 1328.5L1420 1343L1408.5 1350L1406.5 1350L1395 1343L1395 1328.5Z" fill="#F8393C"/><path d="M1397 1337L1418 1337L1418 1341.9L1407.5 1347.7L1397 1341.9Z" fill="#fff"/>
<path d="M1421.5 1322L1423.5 1322L1435 1328.5L1435 1343L1423.5 1350L1421.5 1350L1410 1343L1410 1328.5Z" fill="#F8393C"/><path d="M1412 1337L1433 1337L1433 1341.9L1422.5 1347.7L1412 1341.9Z" fill="#fff"/>
<path d="M1435.5 1322L1437.5 1322L1449 1328.5L1449 1343L1437.5 1350L1435.5 1350L1424 1343L1424 1328.5Z" fill="#F8393C"/><path d="M1426 1337L1447 1337L1447 1341.9L1436.5 1347.7L1426 1341.9Z" fill="#fff"/>
<path d="M1450.5 1322L1452.5 1322L1464 1328.5L1464 1343L1452.5 1350L1450.5 1350L1439 1343L1439 1328.5Z" fill="#F8393C"/><path d="M1441 1337L1462 1337L1462 1341.9L1451.5 1347.7L1441 1341.9Z" fill="#fff"/>
<path d="M1465.5 1322L1467.5 1322L1479 1328.5L1479 1343L1467.5 1350L1465.5 1350L1454 1343L1454 1328.5Z" fill="#F8393C"/><path d="M1456 1337L1477 1337L1477 1341.9L1466.5 1347.7L1456 1341.9Z" fill="#fff"/>
<path d="M1480.5 1322L1482.5 1322L1494 1328.5L1494 1343L1482.5 1350L1480.5 1350L1469 1343L1469 1328.5Z" fill="#F8393C"/><path d="M1471 1337L1492 1337L1492 1341.9L1481.5 1347.7L1471 1341.9Z" fill="#fff"/>
<path d="M1494.5 1322L1496.5 1322L1508 1328.5L1508 1343L1496.5 1350L1494.5 1350L1483 1343L1483 1328.5Z" fill="#F8393C"/><path d="M1485 1337L1506 1337L1506 1341.9L1495.5 1347.7L1485 1341.9Z" fill="#fff"/>
<path d="M1509.5 1322L1511.5 1322L1523 1328.5L1523 1343L1511.5 1350L1509.5 1350L1498 1343L1498 1328.5Z" fill="#F8393C"/><path d="M1500 1337L1521 1337L1521 1341.9L1510.5 1347.7L1500 1341.9Z" fill="#fff"/>
<path d="M1524.5 1322L1526.5 1322L1538 1328.5L1538 1343L1526.5 1350L1524.5 1350L1513 1343L1513 1328.5Z" fill="#F8393C"/><path d="M1515 1337L1536 1337L1536 1341.9L1525.5 1347.7L1515 1341.9Z" fill="#fff"/>
<path d="M1538.5 1322L1540.5 1322L1552 1328.5L1552 1343L1540.5 1350L1538.5 1350L1527 1343L1527 1328.5Z" fill="#F8393C"/><path d="M1529 1337L1550 1337L1550 1341.9L1539.5 1347.7L1529 1341.9Z" fill="#fff"/>
<path d="M1553.5 1322L1555.5 1322L1567 1328.5L1567 1343L1555.5 1350L1553.5 1350L1542 1343L1542 1328.5Z" fill="#F8393C"/><path d="M1544 1337L1565 1337L1565 1341.9L1554.5 1347.7L1544 1341.9Z" fill="#fff"/>
<path d="M1568.5 1322L1570.5 1322L1582 1328.5L1582 1343L1570.5 1350L1568.5 1350L1557 1343L1557 1328.5Z" fill="#F8393C"/><path d="M1559 1337L1580 1337L1580 1341.9L1569.5 1347.7L1559 1341.9Z" fill="#fff"/>
<path d="M1582.5 1322L1584.5 1322L1596 1328.5L1596 1343L1584.5 1350L1582.5 1350L1571 1343L1571 1328.5Z" fill="#F8393C"/><path d="M1573 1337L1594 1337L1594 1341.9L1583.5 1347.7L1573 1341.9Z" fill="#fff"/>
<path d="M1597.5 1322L1599.5 1322L1611 1328.5L1611 1343L1599.5 1350L1597.5 1350L1586 1343L1586 1328.5Z" fill="#F8393C"/><path d="M1588 1337L1609 1337L1609 1341.9L1598.5 1347.7L1588 1341.9Z" fill="#fff"/>
<path d="M1612.5 1322L1614.5 1322L1626 1328.5L1626 1343L1614.5 1350L1612.5 1350L1601 1343L1601 1328.5Z" fill="#F8393C"/><path d="M1603 1337L1624 1337L1624 1341.9L1613.5 1347.7L1603 1341.9Z" fill="#fff"/>
<path d="M1627.5 1322L1629.5 1322L1641 1328.5L1641 1343L1629.5 1350L1627.5 1350L1616 1343L1616 1328.5Z" fill="#F8393C"/><path d="M1618 1337L1639 1337L1639 1341.9L1628.5 1347.7L1618 1341.9Z" fill="#fff"/>
<path d="M1641.5 1322L1643.5 1322L1655 1328.5L1655 1343L1643.5 1350L1641.5 1350L1630 1343L1630 1328.5Z" fill="#F8393C"/><path d="M1632 1337L1653 1337L1653 1341.9L1642.5 1347.7L1632 1341.9Z" fill="#fff"/>
<path d="M1656.5 1322L1658.5 1322L1670 1328.5L1670 1343L1658.5 1350L1656.5 1350L1645 1343L1645 1328.5Z" fill="#F8393C"/><path d="M1647 1337L1668 1337L1668 1341.9L1657.5 1347.7L1647 1341.9Z" fill="#fff"/>
<path d="M1671.5 1322L1673.5 1322L1685 1328.5L1685 1343L1673.5 1350L1671.5 1350L1660 1343L1660 1328.5Z" fill="#F8393C"/><path d="M1662 1337L1683 1337L1683 1341.9L1672.5 1347.7L1662 1341.9Z" fill="#fff"/>
<path d="M1685.5 1322L1687.5 1322L1699 1328.5L1699 1343L1687.5 1350L1685.5 1350L1674 1343L1674 1328.5Z" fill="#F8393C"/><path d="M1676 1337L1697 1337L1697 1341.9L1686.5 1347.7L1676 1341.9Z" fill="#fff"/>
<path d="M1700.5 1322L1702.5 1322L1714 1328.5L1714 1343L1702.5 1350L1700.5 1350L1689 1343L1689 1328.5Z" fill="#F8393C"/><path d="M1691 1337L1712 1337L1712 1341.9L1701.5 1347.7L1691 1341.9Z" fill="#fff"/>
<path d="M1715.5 1322L1717.5 1322L1729 1328.5L1729 1343L1717.5 1350L1715.5 1350L1704 1343L1704 1328.5Z" fill="#F8393C"/><path d="M1706 1337L1727 1337L1727 1341.9L1716.5 1347.7L1706 1341.9Z" fill="#fff"/>
<path d="M1729.5 1322L1731.5 1322L1743 1328.5L1743 1343L1731.5 1350L1729.5 1350L1718 1343L1718 1328.5Z" fill="#F8393C"/><path d="M1720 1337L1741 1337L1741 1341.9L1730.5 1347.7L1720 1341.9Z" fill="#fff"/>
<path d="M1744.5 1322L1746.5 1322L1758 1328.5L1758 1343L1746.5 1350L1744.5 1350L1733 1343L1733 1328.5Z" fill="#F8393C"/><path d="M1735 1337L1756 1337L1756 1341.9L1745.5 1347.7L1735 1341.9Z" fill="#fff"/>
<path d="M1759.5 1322L1761.5 1322L1773 1328.5L1773 1343L1761.5 1350L1759.5 1350L1748 1343L1748 1328.5Z" fill="#F8393C"/><path d="M1750 1337L1771 1337L1771 1341.9L1760.5 1347.7L1750 1341.9Z" fill="#fff"/>
<path d="M1774.5 1322L1776.5 1322L1788 1328.5L1788 1343L1776.5 1350L1774.5 1350L1763 1343L1763 1328.5Z" fill="#F8393C"/><path d="M1765 1337L1786 1337L1786 1341.9L1775.5 1347.7L1765 1341.9Z" fill="#fff"/>
<path d="M1788.5 1322L1790.5 1322L1802 1328.5L1802 1343L1790.5 1350L1788.5 1350L1777 1343L1777 1328.5Z" fill="#F8393C"/><path d="M1779 1337L1800 1337L1800 1341.9L1789.5 1347.7L1779 1341.9Z" fill="#fff"/>
</g>
</g>
<g shape-rendering="crispEdges">
<rect x="1250" y="845" width="55" height="4" fill="#8E9BFD"/>
<rect x="1334" y="845" width="55" height="4" fill="#8E9BFD"/>
<rect x="1309" y="836" width="21" height="21" fill="#fff" stroke="#8E9BFD" stroke-width="2"/><rect x="1308" y="835" width="23" height="13" fill="#8E9BFD"/>
<rect x="1250" y="946" width="55" height="4" fill="#B674FC"/>
<rect x="1334" y="946" width="55" height="4" fill="#B674FC"/>
<circle cx="1319.5" cy="947.5" r="11.5" fill="#fff" stroke="#B674FC" stroke-width="2"/><path d="M1307 949A12.5 12.5 0 0 1 1332 949Z" fill="#B674FC"/>
<rect x="1250" y="1047" width="55" height="4" fill="#008080"/>
<rect x="1334" y="1047" width="55" height="4" fill="#008080"/>
<path d="M1317.9 1032L1320.1 1032L1334 1058L1304 1058Z" fill="#008080"/><path d="M1310 1050L1328 1050L1331.2 1056L1306.8 1056Z" fill="#fff"/>
<rect x="1250" y="1148" width="55" height="4" fill="#F8393C"/>
<rect x="1334" y="1148" width="55" height="4" fill="#F8393C"/>
<path d="M1318.5 1136L1320.5 1136L1332 1142.5L1332 1157L1320.5 1164L1318.5 1164L1307 1157L1307 1142.5Z" fill="#F8393C"/><path d="M1309 1151L1330 1151L1330 1155.9L1319.5 1161.7L1309 1155.9Z" fill="#fff"/>
</g>
<g fill="#000" style="font-family:'Liberation Serif',serif">
<text transform="translate(319.5 1463.8) scale(1 1.04)" font-size="75" text-anchor="middle">100</text>
<text transform="translate(613.6 1463.8) scale(1 1.04)" font-size="75" text-anchor="middle">200</text>
<text transform="translate(907.7 1463.8) scale(1 1.04)" font-size="75" text-anchor="middle">300</text>
<text transform="translate(1201.8 1463.8) scale(1 1.04)" font-size="75" text-anchor="middle">400</text>
<text transform="translate(1495.9 1463.8) scale(1 1.04)" font-size="75" text-anchor="middle">500</text>
<text transform="translate(1790 1463.8) scale(1 1.04)" font-size="75" text-anchor="middle">600</text>
<text transform="translate(770.3 1549.1) scale(1 1.035)" font-size="85.7" xml:space="preserve" style="white-space:pre">T  (°C)</text>
<text transform="translate(84 683.8) rotate(-90) scale(1 0.975)" font-size="88.8" text-anchor="middle">Intensity (a.u.)</text>
<text text-anchor="middle"><tspan x="1447.6" y="873" font-size="70">N</tspan><tspan x="1484.7" y="891.6" font-size="47">2</tspan></text>
<text text-anchor="middle"><tspan x="1447.6" y="974" font-size="70">N</tspan><tspan x="1484.7" y="992.6" font-size="47">2</tspan><tspan x="1516.6" y="974" font-size="70">+</tspan><tspan x="1560.5" y="974" font-size="70">O</tspan><tspan x="1597.6" y="992.6" font-size="47">2</tspan></text>
<text text-anchor="middle"><tspan x="1447.6" y="1074.5" font-size="70">N</tspan><tspan x="1484.7" y="1093.1" font-size="47">2</tspan><tspan x="1516.6" y="1074.5" font-size="70">+</tspan><tspan x="1554.8" y="1074.5" font-size="70">S</tspan><tspan x="1599.4" y="1074.5" font-size="70">O</tspan><tspan x="1636" y="1093.1" font-size="47">2</tspan></text>
<text text-anchor="middle"><tspan x="1447.6" y="1175.3" font-size="70">N</tspan><tspan x="1484.7" y="1193.9" font-size="47">2</tspan><tspan x="1516.6" y="1175.3" font-size="70">+</tspan><tspan x="1560.5" y="1175.3" font-size="70">O</tspan><tspan x="1597.6" y="1193.9" font-size="47">2</tspan><tspan x="1628.3" y="1175.3" font-size="70">+</tspan><tspan x="1666.7" y="1175.3" font-size="70">S</tspan><tspan x="1711.7" y="1175.3" font-size="70">O</tspan><tspan x="1748.6" y="1193.9" font-size="47">2</tspan></text>
</g>
</svg>
</body>
</html>
